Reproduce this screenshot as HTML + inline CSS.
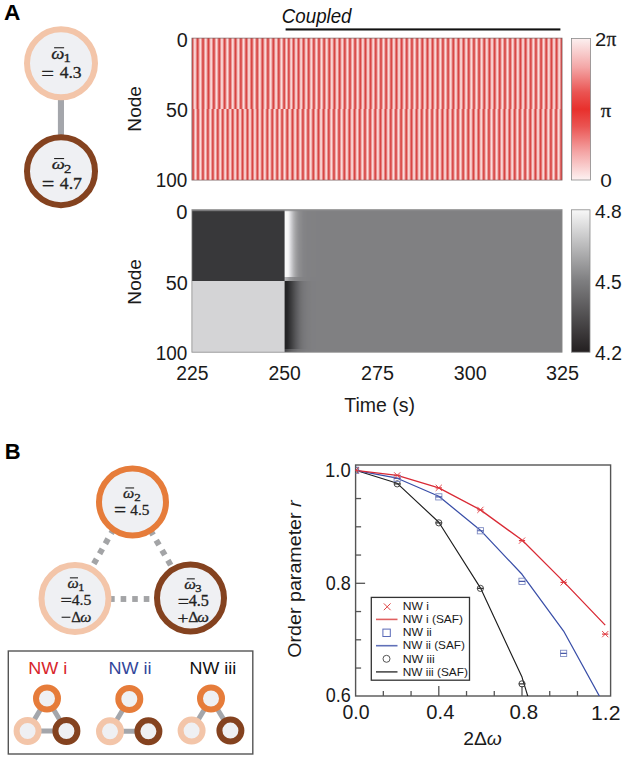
<!DOCTYPE html>
<html><head><meta charset="utf-8"><title>Figure</title>
<style>
html,body{margin:0;padding:0;background:#fff;}
body{width:626px;height:759px;overflow:hidden;font-family:"Liberation Sans", sans-serif;}
svg{display:block;}
</style></head><body>
<svg width="626" height="759" viewBox="0 0 626 759">
<rect width="626" height="759" fill="#fff"/>
<defs><linearGradient id="gTop" x1="0" x2="1" y1="0" y2="0"><stop offset="0.0014" stop-color="#d94b49"/><stop offset="0.0041" stop-color="#e98f8e"/><stop offset="0.0068" stop-color="#f9d3d3"/><stop offset="0.0095" stop-color="#f6c6c6"/><stop offset="0.0122" stop-color="#e68180"/><stop offset="0.0149" stop-color="#d74442"/><stop offset="0.0176" stop-color="#e27170"/><stop offset="0.0203" stop-color="#f2b8b8"/><stop offset="0.0230" stop-color="#fbdbdb"/><stop offset="0.0257" stop-color="#ec9e9d"/><stop offset="0.0284" stop-color="#dc5654"/><stop offset="0.0311" stop-color="#db5452"/><stop offset="0.0338" stop-color="#ec9c9b"/><stop offset="0.0365" stop-color="#fadada"/><stop offset="0.0392" stop-color="#f3baba"/><stop offset="0.0419" stop-color="#e27372"/><stop offset="0.0446" stop-color="#d74341"/><stop offset="0.0473" stop-color="#e57f7d"/><stop offset="0.0500" stop-color="#f5c4c4"/><stop offset="0.0527" stop-color="#f9d5d4"/><stop offset="0.0554" stop-color="#e99190"/><stop offset="0.0581" stop-color="#d94c4a"/><stop offset="0.0608" stop-color="#de605e"/><stop offset="0.0635" stop-color="#efa8a8"/><stop offset="0.0662" stop-color="#fbdedd"/><stop offset="0.0689" stop-color="#f0aead"/><stop offset="0.0716" stop-color="#df6664"/><stop offset="0.0743" stop-color="#d84947"/><stop offset="0.0770" stop-color="#e88c8a"/><stop offset="0.0797" stop-color="#f8d0d0"/><stop offset="0.0824" stop-color="#f7cac9"/><stop offset="0.0851" stop-color="#e68483"/><stop offset="0.0878" stop-color="#d84543"/><stop offset="0.0905" stop-color="#e16d6c"/><stop offset="0.0932" stop-color="#f2b5b4"/><stop offset="0.0959" stop-color="#fbdcdc"/><stop offset="0.0986" stop-color="#eda1a1"/><stop offset="0.1014" stop-color="#dc5957"/><stop offset="0.1041" stop-color="#da514f"/><stop offset="0.1068" stop-color="#eb9897"/><stop offset="0.1095" stop-color="#fad9d9"/><stop offset="0.1122" stop-color="#f4bebd"/><stop offset="0.1149" stop-color="#e37776"/><stop offset="0.1176" stop-color="#d74341"/><stop offset="0.1203" stop-color="#e47b7a"/><stop offset="0.1230" stop-color="#f4c1c0"/><stop offset="0.1257" stop-color="#fad7d7"/><stop offset="0.1284" stop-color="#ea9594"/><stop offset="0.1311" stop-color="#da4f4d"/><stop offset="0.1338" stop-color="#dd5c5a"/><stop offset="0.1365" stop-color="#eea5a4"/><stop offset="0.1392" stop-color="#fbdddd"/><stop offset="0.1419" stop-color="#f1b1b1"/><stop offset="0.1446" stop-color="#e06a68"/><stop offset="0.1473" stop-color="#d84644"/><stop offset="0.1500" stop-color="#e78887"/><stop offset="0.1527" stop-color="#f7cdcd"/><stop offset="0.1554" stop-color="#f7cdcd"/><stop offset="0.1581" stop-color="#e78887"/><stop offset="0.1608" stop-color="#d84644"/><stop offset="0.1635" stop-color="#e06a68"/><stop offset="0.1662" stop-color="#f1b1b1"/><stop offset="0.1689" stop-color="#fbdddd"/><stop offset="0.1716" stop-color="#eea5a4"/><stop offset="0.1743" stop-color="#dd5c5a"/><stop offset="0.1770" stop-color="#da4f4d"/><stop offset="0.1797" stop-color="#ea9594"/><stop offset="0.1824" stop-color="#fad7d7"/><stop offset="0.1851" stop-color="#f4c1c0"/><stop offset="0.1878" stop-color="#e47b7a"/><stop offset="0.1905" stop-color="#d74341"/><stop offset="0.1932" stop-color="#e37776"/><stop offset="0.1959" stop-color="#f4bebd"/><stop offset="0.1986" stop-color="#fad9d9"/><stop offset="0.2014" stop-color="#eb9897"/><stop offset="0.2041" stop-color="#da514f"/><stop offset="0.2068" stop-color="#dc5957"/><stop offset="0.2095" stop-color="#eda1a1"/><stop offset="0.2122" stop-color="#fbdcdc"/><stop offset="0.2149" stop-color="#f2b5b4"/><stop offset="0.2176" stop-color="#e16d6c"/><stop offset="0.2203" stop-color="#d84543"/><stop offset="0.2230" stop-color="#e68483"/><stop offset="0.2257" stop-color="#f7cac9"/><stop offset="0.2284" stop-color="#f8d0d0"/><stop offset="0.2311" stop-color="#e88c8a"/><stop offset="0.2338" stop-color="#d84947"/><stop offset="0.2365" stop-color="#df6664"/><stop offset="0.2392" stop-color="#f0aead"/><stop offset="0.2419" stop-color="#fbdedd"/><stop offset="0.2446" stop-color="#efa8a8"/><stop offset="0.2473" stop-color="#de605e"/><stop offset="0.2500" stop-color="#da4e4c"/><stop offset="0.2527" stop-color="#ed9f9e"/><stop offset="0.2554" stop-color="#fbdbda"/><stop offset="0.2581" stop-color="#ec9f9e"/><stop offset="0.2608" stop-color="#da4f4d"/><stop offset="0.2635" stop-color="#e06866"/><stop offset="0.2662" stop-color="#f3b9b9"/><stop offset="0.2689" stop-color="#f9d5d5"/><stop offset="0.2716" stop-color="#e88c8a"/><stop offset="0.2743" stop-color="#d84644"/><stop offset="0.2770" stop-color="#e37674"/><stop offset="0.2797" stop-color="#f5c3c2"/><stop offset="0.2824" stop-color="#f8d0d0"/><stop offset="0.2851" stop-color="#e78685"/><stop offset="0.2878" stop-color="#d84543"/><stop offset="0.2905" stop-color="#e47877"/><stop offset="0.2932" stop-color="#f5c3c3"/><stop offset="0.2959" stop-color="#f8d1d1"/><stop offset="0.2986" stop-color="#e78887"/><stop offset="0.3014" stop-color="#d84644"/><stop offset="0.3041" stop-color="#e37472"/><stop offset="0.3068" stop-color="#f4bfbe"/><stop offset="0.3095" stop-color="#f9d5d5"/><stop offset="0.3122" stop-color="#e98e8d"/><stop offset="0.3149" stop-color="#d84846"/><stop offset="0.3176" stop-color="#e16c6a"/><stop offset="0.3203" stop-color="#f2b7b6"/><stop offset="0.3230" stop-color="#fad9d9"/><stop offset="0.3257" stop-color="#eb9796"/><stop offset="0.3284" stop-color="#da4e4c"/><stop offset="0.3311" stop-color="#de6160"/><stop offset="0.3338" stop-color="#f0adad"/><stop offset="0.3365" stop-color="#fbdcdc"/><stop offset="0.3392" stop-color="#eda2a1"/><stop offset="0.3419" stop-color="#dc5654"/><stop offset="0.3446" stop-color="#dc5756"/><stop offset="0.3473" stop-color="#eda3a2"/><stop offset="0.3500" stop-color="#fbdddd"/><stop offset="0.3527" stop-color="#f0acac"/><stop offset="0.3554" stop-color="#de615f"/><stop offset="0.3581" stop-color="#da4e4d"/><stop offset="0.3608" stop-color="#eb9796"/><stop offset="0.3635" stop-color="#fad9d9"/><stop offset="0.3662" stop-color="#f2b8b7"/><stop offset="0.3689" stop-color="#e16d6c"/><stop offset="0.3716" stop-color="#d84745"/><stop offset="0.3743" stop-color="#e88c8a"/><stop offset="0.3770" stop-color="#f9d3d2"/><stop offset="0.3797" stop-color="#f5c3c3"/><stop offset="0.3824" stop-color="#e47a78"/><stop offset="0.3851" stop-color="#d74442"/><stop offset="0.3878" stop-color="#e57f7e"/><stop offset="0.3905" stop-color="#f6c8c8"/><stop offset="0.3932" stop-color="#f8cfce"/><stop offset="0.3959" stop-color="#e78685"/><stop offset="0.3986" stop-color="#d84543"/><stop offset="0.4014" stop-color="#e27371"/><stop offset="0.4041" stop-color="#f3bdbc"/><stop offset="0.4068" stop-color="#fad7d7"/><stop offset="0.4095" stop-color="#ea9392"/><stop offset="0.4122" stop-color="#d94b49"/><stop offset="0.4149" stop-color="#df6564"/><stop offset="0.4176" stop-color="#f1b1b0"/><stop offset="0.4203" stop-color="#fbdcdc"/><stop offset="0.4230" stop-color="#ed9f9e"/><stop offset="0.4257" stop-color="#db5452"/><stop offset="0.4284" stop-color="#dc5958"/><stop offset="0.4311" stop-color="#eea5a4"/><stop offset="0.4338" stop-color="#fbdddd"/><stop offset="0.4365" stop-color="#efabaa"/><stop offset="0.4392" stop-color="#de5f5d"/><stop offset="0.4419" stop-color="#da4f4e"/><stop offset="0.4446" stop-color="#eb9998"/><stop offset="0.4473" stop-color="#fadada"/><stop offset="0.4500" stop-color="#f2b7b6"/><stop offset="0.4527" stop-color="#e16c6a"/><stop offset="0.4554" stop-color="#d84846"/><stop offset="0.4581" stop-color="#e88d8b"/><stop offset="0.4608" stop-color="#f9d3d3"/><stop offset="0.4635" stop-color="#f5c2c2"/><stop offset="0.4662" stop-color="#e47978"/><stop offset="0.4689" stop-color="#d74442"/><stop offset="0.4716" stop-color="#e5807f"/><stop offset="0.4743" stop-color="#f6c9c8"/><stop offset="0.4770" stop-color="#f8cece"/><stop offset="0.4797" stop-color="#e78685"/><stop offset="0.4824" stop-color="#d84543"/><stop offset="0.4851" stop-color="#e27372"/><stop offset="0.4878" stop-color="#f4bdbc"/><stop offset="0.4905" stop-color="#fad7d7"/><stop offset="0.4932" stop-color="#ea9291"/><stop offset="0.4959" stop-color="#d94b49"/><stop offset="0.4986" stop-color="#df6664"/><stop offset="0.5014" stop-color="#f1b1b1"/><stop offset="0.5041" stop-color="#fbdcdb"/><stop offset="0.5068" stop-color="#ec9e9e"/><stop offset="0.5095" stop-color="#db5452"/><stop offset="0.5122" stop-color="#dc5a58"/><stop offset="0.5149" stop-color="#eea5a4"/><stop offset="0.5176" stop-color="#fbdddd"/><stop offset="0.5203" stop-color="#efaaaa"/><stop offset="0.5230" stop-color="#de5f5d"/><stop offset="0.5257" stop-color="#da504e"/><stop offset="0.5284" stop-color="#eb9998"/><stop offset="0.5311" stop-color="#fadada"/><stop offset="0.5338" stop-color="#f2b6b6"/><stop offset="0.5365" stop-color="#e16c6a"/><stop offset="0.5392" stop-color="#d84846"/><stop offset="0.5419" stop-color="#e88d8c"/><stop offset="0.5446" stop-color="#f9d3d3"/><stop offset="0.5473" stop-color="#f5c2c2"/><stop offset="0.5500" stop-color="#e47977"/><stop offset="0.5527" stop-color="#d74442"/><stop offset="0.5554" stop-color="#e5807f"/><stop offset="0.5581" stop-color="#f6c9c9"/><stop offset="0.5608" stop-color="#f7cecd"/><stop offset="0.5635" stop-color="#e78584"/><stop offset="0.5662" stop-color="#d84543"/><stop offset="0.5689" stop-color="#e27372"/><stop offset="0.5716" stop-color="#f4bdbd"/><stop offset="0.5743" stop-color="#fad7d6"/><stop offset="0.5770" stop-color="#ea9291"/><stop offset="0.5797" stop-color="#d94b49"/><stop offset="0.5824" stop-color="#df6664"/><stop offset="0.5851" stop-color="#f1b2b1"/><stop offset="0.5878" stop-color="#fbdcdb"/><stop offset="0.5905" stop-color="#ec9e9d"/><stop offset="0.5932" stop-color="#db5352"/><stop offset="0.5959" stop-color="#dc5a58"/><stop offset="0.5986" stop-color="#eea6a5"/><stop offset="0.6014" stop-color="#fbdddd"/><stop offset="0.6041" stop-color="#efaaa9"/><stop offset="0.6068" stop-color="#de5e5d"/><stop offset="0.6095" stop-color="#da504e"/><stop offset="0.6122" stop-color="#eb9998"/><stop offset="0.6149" stop-color="#fadada"/><stop offset="0.6176" stop-color="#f2b6b5"/><stop offset="0.6203" stop-color="#e16b6a"/><stop offset="0.6230" stop-color="#d84846"/><stop offset="0.6257" stop-color="#e88d8c"/><stop offset="0.6284" stop-color="#f9d4d3"/><stop offset="0.6311" stop-color="#f5c2c1"/><stop offset="0.6338" stop-color="#e47877"/><stop offset="0.6365" stop-color="#d74442"/><stop offset="0.6392" stop-color="#e6817f"/><stop offset="0.6419" stop-color="#f6c9c9"/><stop offset="0.6446" stop-color="#f7cdcd"/><stop offset="0.6473" stop-color="#e78584"/><stop offset="0.6500" stop-color="#d84543"/><stop offset="0.6527" stop-color="#e37472"/><stop offset="0.6554" stop-color="#f4bebd"/><stop offset="0.6581" stop-color="#fad7d6"/><stop offset="0.6608" stop-color="#e99291"/><stop offset="0.6635" stop-color="#d94b49"/><stop offset="0.6662" stop-color="#df6665"/><stop offset="0.6689" stop-color="#f1b2b1"/><stop offset="0.6716" stop-color="#fbdcdb"/><stop offset="0.6743" stop-color="#ec9e9d"/><stop offset="0.6770" stop-color="#db5351"/><stop offset="0.6797" stop-color="#dd5a58"/><stop offset="0.6824" stop-color="#eea6a5"/><stop offset="0.6851" stop-color="#fbdddd"/><stop offset="0.6878" stop-color="#efaaa9"/><stop offset="0.6905" stop-color="#dd5e5c"/><stop offset="0.6932" stop-color="#da504e"/><stop offset="0.6959" stop-color="#eb9a99"/><stop offset="0.6986" stop-color="#fadada"/><stop offset="0.7014" stop-color="#f2b6b5"/><stop offset="0.7041" stop-color="#e06b69"/><stop offset="0.7068" stop-color="#d84846"/><stop offset="0.7095" stop-color="#e98d8c"/><stop offset="0.7122" stop-color="#f9d4d4"/><stop offset="0.7149" stop-color="#f5c2c1"/><stop offset="0.7176" stop-color="#e47877"/><stop offset="0.7203" stop-color="#d74442"/><stop offset="0.7230" stop-color="#e68180"/><stop offset="0.7257" stop-color="#f7cac9"/><stop offset="0.7284" stop-color="#f7cdcd"/><stop offset="0.7311" stop-color="#e78584"/><stop offset="0.7338" stop-color="#d84543"/><stop offset="0.7365" stop-color="#e37473"/><stop offset="0.7392" stop-color="#f4bebd"/><stop offset="0.7419" stop-color="#fad6d6"/><stop offset="0.7446" stop-color="#e99190"/><stop offset="0.7473" stop-color="#d94a49"/><stop offset="0.7500" stop-color="#df6765"/><stop offset="0.7527" stop-color="#f1b2b1"/><stop offset="0.7554" stop-color="#fbdbdb"/><stop offset="0.7581" stop-color="#ec9e9d"/><stop offset="0.7608" stop-color="#db5351"/><stop offset="0.7635" stop-color="#dd5a59"/><stop offset="0.7662" stop-color="#eea6a5"/><stop offset="0.7689" stop-color="#fbdddd"/><stop offset="0.7716" stop-color="#efaaa9"/><stop offset="0.7743" stop-color="#dd5e5c"/><stop offset="0.7770" stop-color="#da504e"/><stop offset="0.7797" stop-color="#eb9a99"/><stop offset="0.7824" stop-color="#fadbda"/><stop offset="0.7851" stop-color="#f2b6b5"/><stop offset="0.7878" stop-color="#e06b69"/><stop offset="0.7905" stop-color="#d84846"/><stop offset="0.7932" stop-color="#e98e8d"/><stop offset="0.7959" stop-color="#f9d4d4"/><stop offset="0.7986" stop-color="#f5c1c1"/><stop offset="0.8014" stop-color="#e37876"/><stop offset="0.8041" stop-color="#d74442"/><stop offset="0.8068" stop-color="#e68180"/><stop offset="0.8095" stop-color="#f7cac9"/><stop offset="0.8122" stop-color="#f7cdcd"/><stop offset="0.8149" stop-color="#e68583"/><stop offset="0.8176" stop-color="#d84543"/><stop offset="0.8203" stop-color="#e37473"/><stop offset="0.8230" stop-color="#f4bebe"/><stop offset="0.8257" stop-color="#f9d6d6"/><stop offset="0.8284" stop-color="#e99190"/><stop offset="0.8311" stop-color="#d94a48"/><stop offset="0.8338" stop-color="#e06765"/><stop offset="0.8365" stop-color="#f1b2b2"/><stop offset="0.8392" stop-color="#fbdbdb"/><stop offset="0.8419" stop-color="#ec9d9c"/><stop offset="0.8446" stop-color="#db5351"/><stop offset="0.8473" stop-color="#dd5b59"/><stop offset="0.8500" stop-color="#eea6a6"/><stop offset="0.8527" stop-color="#fbdddd"/><stop offset="0.8554" stop-color="#efa9a9"/><stop offset="0.8581" stop-color="#dd5d5c"/><stop offset="0.8608" stop-color="#da514f"/><stop offset="0.8635" stop-color="#ec9a99"/><stop offset="0.8662" stop-color="#fadbda"/><stop offset="0.8689" stop-color="#f2b5b5"/><stop offset="0.8716" stop-color="#e06a69"/><stop offset="0.8743" stop-color="#d84847"/><stop offset="0.8770" stop-color="#e98e8d"/><stop offset="0.8797" stop-color="#f9d4d4"/><stop offset="0.8824" stop-color="#f5c1c0"/><stop offset="0.8851" stop-color="#e37776"/><stop offset="0.8878" stop-color="#d74442"/><stop offset="0.8905" stop-color="#e68180"/><stop offset="0.8932" stop-color="#f7caca"/><stop offset="0.8959" stop-color="#f7cdcc"/><stop offset="0.8986" stop-color="#e68483"/><stop offset="0.9014" stop-color="#d84543"/><stop offset="0.9041" stop-color="#e37573"/><stop offset="0.9068" stop-color="#f4bebe"/><stop offset="0.9095" stop-color="#f9d6d6"/><stop offset="0.9122" stop-color="#e99190"/><stop offset="0.9149" stop-color="#d94a48"/><stop offset="0.9176" stop-color="#e06766"/><stop offset="0.9203" stop-color="#f1b3b2"/><stop offset="0.9230" stop-color="#fbdbdb"/><stop offset="0.9257" stop-color="#ec9d9c"/><stop offset="0.9284" stop-color="#db5251"/><stop offset="0.9311" stop-color="#dd5b59"/><stop offset="0.9338" stop-color="#eea7a6"/><stop offset="0.9365" stop-color="#fbdddd"/><stop offset="0.9392" stop-color="#efa9a8"/><stop offset="0.9419" stop-color="#dd5d5c"/><stop offset="0.9446" stop-color="#da514f"/><stop offset="0.9473" stop-color="#ec9b9a"/><stop offset="0.9500" stop-color="#fbdbdb"/><stop offset="0.9527" stop-color="#f2b5b4"/><stop offset="0.9554" stop-color="#e06a68"/><stop offset="0.9581" stop-color="#d84947"/><stop offset="0.9608" stop-color="#e98e8d"/><stop offset="0.9635" stop-color="#f9d4d4"/><stop offset="0.9662" stop-color="#f4c1c0"/><stop offset="0.9689" stop-color="#e37776"/><stop offset="0.9716" stop-color="#d74442"/><stop offset="0.9743" stop-color="#e68281"/><stop offset="0.9770" stop-color="#f7caca"/><stop offset="0.9797" stop-color="#f7cccc"/><stop offset="0.9824" stop-color="#e68483"/><stop offset="0.9851" stop-color="#d84543"/><stop offset="0.9878" stop-color="#e37574"/><stop offset="0.9905" stop-color="#f4bfbe"/><stop offset="0.9932" stop-color="#f9d6d6"/><stop offset="0.9959" stop-color="#e9908f"/><stop offset="0.9986" stop-color="#d94a48"/></linearGradient><linearGradient id="gBot" x1="0" x2="1" y1="0" y2="0"><stop offset="0.0014" stop-color="#dc5a58"/><stop offset="0.0041" stop-color="#dc5755"/><stop offset="0.0068" stop-color="#eea5a4"/><stop offset="0.0095" stop-color="#fbdcdc"/><stop offset="0.0122" stop-color="#eea5a4"/><stop offset="0.0149" stop-color="#dc5755"/><stop offset="0.0176" stop-color="#dc5a58"/><stop offset="0.0203" stop-color="#efa8a8"/><stop offset="0.0230" stop-color="#fbdcdc"/><stop offset="0.0257" stop-color="#eda1a0"/><stop offset="0.0284" stop-color="#db5352"/><stop offset="0.0311" stop-color="#dd5d5c"/><stop offset="0.0338" stop-color="#f0acab"/><stop offset="0.0365" stop-color="#fbdbdb"/><stop offset="0.0392" stop-color="#ec9d9c"/><stop offset="0.0419" stop-color="#da514f"/><stop offset="0.0446" stop-color="#de6160"/><stop offset="0.0473" stop-color="#f1b0af"/><stop offset="0.0500" stop-color="#fadada"/><stop offset="0.0527" stop-color="#eb9998"/><stop offset="0.0554" stop-color="#da4e4c"/><stop offset="0.0581" stop-color="#df6563"/><stop offset="0.0608" stop-color="#f1b4b3"/><stop offset="0.0635" stop-color="#fad9d9"/><stop offset="0.0662" stop-color="#ea9594"/><stop offset="0.0689" stop-color="#d94b49"/><stop offset="0.0716" stop-color="#e06968"/><stop offset="0.0743" stop-color="#f2b7b7"/><stop offset="0.0770" stop-color="#fad8d7"/><stop offset="0.0797" stop-color="#e99290"/><stop offset="0.0824" stop-color="#d94947"/><stop offset="0.0851" stop-color="#e16d6c"/><stop offset="0.0878" stop-color="#f3bbbb"/><stop offset="0.0905" stop-color="#f9d6d5"/><stop offset="0.0932" stop-color="#e98e8d"/><stop offset="0.0959" stop-color="#d84745"/><stop offset="0.0986" stop-color="#e27270"/><stop offset="0.1014" stop-color="#f4bfbe"/><stop offset="0.1041" stop-color="#f9d3d3"/><stop offset="0.1068" stop-color="#e88a89"/><stop offset="0.1095" stop-color="#d84644"/><stop offset="0.1122" stop-color="#e37674"/><stop offset="0.1149" stop-color="#f5c3c2"/><stop offset="0.1176" stop-color="#f8d0d0"/><stop offset="0.1203" stop-color="#e78685"/><stop offset="0.1230" stop-color="#d84543"/><stop offset="0.1257" stop-color="#e47a78"/><stop offset="0.1284" stop-color="#f6c6c6"/><stop offset="0.1311" stop-color="#f7cdcd"/><stop offset="0.1338" stop-color="#e68281"/><stop offset="0.1365" stop-color="#d84543"/><stop offset="0.1392" stop-color="#e57e7d"/><stop offset="0.1419" stop-color="#f7cac9"/><stop offset="0.1446" stop-color="#f7cac9"/><stop offset="0.1473" stop-color="#e57e7d"/><stop offset="0.1500" stop-color="#d84543"/><stop offset="0.1527" stop-color="#e68281"/><stop offset="0.1554" stop-color="#f7cdcd"/><stop offset="0.1581" stop-color="#f6c6c6"/><stop offset="0.1608" stop-color="#e47a78"/><stop offset="0.1635" stop-color="#d84543"/><stop offset="0.1662" stop-color="#e78685"/><stop offset="0.1689" stop-color="#f8d0d0"/><stop offset="0.1716" stop-color="#f5c3c2"/><stop offset="0.1743" stop-color="#e37674"/><stop offset="0.1770" stop-color="#d84644"/><stop offset="0.1797" stop-color="#e88a89"/><stop offset="0.1824" stop-color="#f9d3d3"/><stop offset="0.1851" stop-color="#f4bfbe"/><stop offset="0.1878" stop-color="#e27270"/><stop offset="0.1905" stop-color="#d84745"/><stop offset="0.1932" stop-color="#e98e8d"/><stop offset="0.1959" stop-color="#f9d6d5"/><stop offset="0.1986" stop-color="#f3bbbb"/><stop offset="0.2014" stop-color="#e16d6c"/><stop offset="0.2041" stop-color="#d94947"/><stop offset="0.2068" stop-color="#e99290"/><stop offset="0.2095" stop-color="#fad8d7"/><stop offset="0.2122" stop-color="#f2b7b7"/><stop offset="0.2149" stop-color="#e06968"/><stop offset="0.2176" stop-color="#d94b49"/><stop offset="0.2203" stop-color="#ea9594"/><stop offset="0.2230" stop-color="#fad9d9"/><stop offset="0.2257" stop-color="#f1b4b3"/><stop offset="0.2284" stop-color="#df6563"/><stop offset="0.2311" stop-color="#da4e4c"/><stop offset="0.2338" stop-color="#eb9998"/><stop offset="0.2365" stop-color="#fadada"/><stop offset="0.2392" stop-color="#f1b0af"/><stop offset="0.2419" stop-color="#de6160"/><stop offset="0.2446" stop-color="#da514f"/><stop offset="0.2473" stop-color="#ec9d9c"/><stop offset="0.2500" stop-color="#fbdcdc"/><stop offset="0.2527" stop-color="#f1b1b1"/><stop offset="0.2554" stop-color="#e06867"/><stop offset="0.2581" stop-color="#d84846"/><stop offset="0.2608" stop-color="#e88d8c"/><stop offset="0.2635" stop-color="#f9d2d2"/><stop offset="0.2662" stop-color="#f5c5c4"/><stop offset="0.2689" stop-color="#e57d7b"/><stop offset="0.2716" stop-color="#d74442"/><stop offset="0.2743" stop-color="#e47a79"/><stop offset="0.2770" stop-color="#f5c3c2"/><stop offset="0.2797" stop-color="#f9d3d3"/><stop offset="0.2824" stop-color="#e98d8c"/><stop offset="0.2851" stop-color="#d84846"/><stop offset="0.2878" stop-color="#e06a68"/><stop offset="0.2905" stop-color="#f2b4b4"/><stop offset="0.2932" stop-color="#fbdbdb"/><stop offset="0.2959" stop-color="#ec9c9b"/><stop offset="0.2986" stop-color="#db5250"/><stop offset="0.3014" stop-color="#dd5b59"/><stop offset="0.3041" stop-color="#eea7a6"/><stop offset="0.3068" stop-color="#fbdddd"/><stop offset="0.3095" stop-color="#efa9a9"/><stop offset="0.3122" stop-color="#dd5e5c"/><stop offset="0.3149" stop-color="#da504e"/><stop offset="0.3176" stop-color="#eb9a99"/><stop offset="0.3203" stop-color="#fadada"/><stop offset="0.3230" stop-color="#f2b6b5"/><stop offset="0.3257" stop-color="#e16b6a"/><stop offset="0.3284" stop-color="#d84846"/><stop offset="0.3311" stop-color="#e88d8c"/><stop offset="0.3338" stop-color="#f9d3d3"/><stop offset="0.3365" stop-color="#f5c2c2"/><stop offset="0.3392" stop-color="#e47978"/><stop offset="0.3419" stop-color="#d74442"/><stop offset="0.3446" stop-color="#e5807f"/><stop offset="0.3473" stop-color="#f6c9c8"/><stop offset="0.3500" stop-color="#f8cece"/><stop offset="0.3527" stop-color="#e78685"/><stop offset="0.3554" stop-color="#d84543"/><stop offset="0.3581" stop-color="#e27371"/><stop offset="0.3608" stop-color="#f4bdbc"/><stop offset="0.3635" stop-color="#fad7d7"/><stop offset="0.3662" stop-color="#ea9291"/><stop offset="0.3689" stop-color="#d94b49"/><stop offset="0.3716" stop-color="#df6564"/><stop offset="0.3743" stop-color="#f1b1b0"/><stop offset="0.3770" stop-color="#fbdcdc"/><stop offset="0.3797" stop-color="#ed9f9e"/><stop offset="0.3824" stop-color="#db5452"/><stop offset="0.3851" stop-color="#dc5958"/><stop offset="0.3878" stop-color="#eea5a4"/><stop offset="0.3905" stop-color="#fbdddd"/><stop offset="0.3932" stop-color="#efabaa"/><stop offset="0.3959" stop-color="#de5f5d"/><stop offset="0.3986" stop-color="#da4f4e"/><stop offset="0.4014" stop-color="#eb9998"/><stop offset="0.4041" stop-color="#fadada"/><stop offset="0.4068" stop-color="#f2b7b6"/><stop offset="0.4095" stop-color="#e16c6b"/><stop offset="0.4122" stop-color="#d84746"/><stop offset="0.4149" stop-color="#e88c8b"/><stop offset="0.4176" stop-color="#f9d3d3"/><stop offset="0.4203" stop-color="#f5c3c2"/><stop offset="0.4230" stop-color="#e47978"/><stop offset="0.4257" stop-color="#d74442"/><stop offset="0.4284" stop-color="#e5807f"/><stop offset="0.4311" stop-color="#f6c9c8"/><stop offset="0.4338" stop-color="#f8cece"/><stop offset="0.4365" stop-color="#e78685"/><stop offset="0.4392" stop-color="#d84543"/><stop offset="0.4419" stop-color="#e27372"/><stop offset="0.4446" stop-color="#f4bdbc"/><stop offset="0.4473" stop-color="#fad7d7"/><stop offset="0.4500" stop-color="#ea9291"/><stop offset="0.4527" stop-color="#d94b49"/><stop offset="0.4554" stop-color="#df6564"/><stop offset="0.4581" stop-color="#f1b1b0"/><stop offset="0.4608" stop-color="#fbdcdb"/><stop offset="0.4635" stop-color="#ec9f9e"/><stop offset="0.4662" stop-color="#db5452"/><stop offset="0.4689" stop-color="#dc5958"/><stop offset="0.4716" stop-color="#eea5a4"/><stop offset="0.4743" stop-color="#fbdddd"/><stop offset="0.4770" stop-color="#efabaa"/><stop offset="0.4797" stop-color="#de5f5d"/><stop offset="0.4824" stop-color="#da504e"/><stop offset="0.4851" stop-color="#eb9998"/><stop offset="0.4878" stop-color="#fadada"/><stop offset="0.4905" stop-color="#f2b6b6"/><stop offset="0.4932" stop-color="#e16c6a"/><stop offset="0.4959" stop-color="#d84846"/><stop offset="0.4986" stop-color="#e88d8c"/><stop offset="0.5014" stop-color="#f9d3d3"/><stop offset="0.5041" stop-color="#f5c2c2"/><stop offset="0.5068" stop-color="#e47978"/><stop offset="0.5095" stop-color="#d74442"/><stop offset="0.5122" stop-color="#e5807f"/><stop offset="0.5149" stop-color="#f6c9c8"/><stop offset="0.5176" stop-color="#f8cece"/><stop offset="0.5203" stop-color="#e78684"/><stop offset="0.5230" stop-color="#d84543"/><stop offset="0.5257" stop-color="#e27372"/><stop offset="0.5284" stop-color="#f4bdbd"/><stop offset="0.5311" stop-color="#fad7d7"/><stop offset="0.5338" stop-color="#ea9291"/><stop offset="0.5365" stop-color="#d94b49"/><stop offset="0.5392" stop-color="#df6664"/><stop offset="0.5419" stop-color="#f1b1b1"/><stop offset="0.5446" stop-color="#fbdcdb"/><stop offset="0.5473" stop-color="#ec9e9d"/><stop offset="0.5500" stop-color="#db5352"/><stop offset="0.5527" stop-color="#dc5a58"/><stop offset="0.5554" stop-color="#eea5a5"/><stop offset="0.5581" stop-color="#fbdddd"/><stop offset="0.5608" stop-color="#efaaaa"/><stop offset="0.5635" stop-color="#de5e5d"/><stop offset="0.5662" stop-color="#da504e"/><stop offset="0.5689" stop-color="#eb9998"/><stop offset="0.5716" stop-color="#fadada"/><stop offset="0.5743" stop-color="#f2b6b6"/><stop offset="0.5770" stop-color="#e16b6a"/><stop offset="0.5797" stop-color="#d84846"/><stop offset="0.5824" stop-color="#e88d8c"/><stop offset="0.5851" stop-color="#f9d3d3"/><stop offset="0.5878" stop-color="#f5c2c1"/><stop offset="0.5905" stop-color="#e47977"/><stop offset="0.5932" stop-color="#d74442"/><stop offset="0.5959" stop-color="#e5807f"/><stop offset="0.5986" stop-color="#f6c9c9"/><stop offset="0.6014" stop-color="#f7cecd"/><stop offset="0.6041" stop-color="#e78584"/><stop offset="0.6068" stop-color="#d84543"/><stop offset="0.6095" stop-color="#e27472"/><stop offset="0.6122" stop-color="#f4bdbd"/><stop offset="0.6149" stop-color="#fad7d6"/><stop offset="0.6176" stop-color="#ea9291"/><stop offset="0.6203" stop-color="#d94b49"/><stop offset="0.6230" stop-color="#df6665"/><stop offset="0.6257" stop-color="#f1b2b1"/><stop offset="0.6284" stop-color="#fbdcdb"/><stop offset="0.6311" stop-color="#ec9e9d"/><stop offset="0.6338" stop-color="#db5351"/><stop offset="0.6365" stop-color="#dd5a58"/><stop offset="0.6392" stop-color="#eea6a5"/><stop offset="0.6419" stop-color="#fbdddd"/><stop offset="0.6446" stop-color="#efaaa9"/><stop offset="0.6473" stop-color="#dd5e5d"/><stop offset="0.6500" stop-color="#da504e"/><stop offset="0.6527" stop-color="#eb9a99"/><stop offset="0.6554" stop-color="#fadada"/><stop offset="0.6581" stop-color="#f2b6b5"/><stop offset="0.6608" stop-color="#e06b6a"/><stop offset="0.6635" stop-color="#d84846"/><stop offset="0.6662" stop-color="#e88d8c"/><stop offset="0.6689" stop-color="#f9d4d3"/><stop offset="0.6716" stop-color="#f5c2c1"/><stop offset="0.6743" stop-color="#e47877"/><stop offset="0.6770" stop-color="#d74442"/><stop offset="0.6797" stop-color="#e6817f"/><stop offset="0.6824" stop-color="#f6c9c9"/><stop offset="0.6851" stop-color="#f7cdcd"/><stop offset="0.6878" stop-color="#e78584"/><stop offset="0.6905" stop-color="#d84543"/><stop offset="0.6932" stop-color="#e37472"/><stop offset="0.6959" stop-color="#f4bebd"/><stop offset="0.6986" stop-color="#fad7d6"/><stop offset="0.7014" stop-color="#e99190"/><stop offset="0.7041" stop-color="#d94a49"/><stop offset="0.7068" stop-color="#df6665"/><stop offset="0.7095" stop-color="#f1b2b1"/><stop offset="0.7122" stop-color="#fbdbdb"/><stop offset="0.7149" stop-color="#ec9e9d"/><stop offset="0.7176" stop-color="#db5351"/><stop offset="0.7203" stop-color="#dd5a58"/><stop offset="0.7230" stop-color="#eea6a5"/><stop offset="0.7257" stop-color="#fbdddd"/><stop offset="0.7284" stop-color="#efaaa9"/><stop offset="0.7311" stop-color="#dd5e5c"/><stop offset="0.7338" stop-color="#da504e"/><stop offset="0.7365" stop-color="#eb9a99"/><stop offset="0.7392" stop-color="#fadada"/><stop offset="0.7419" stop-color="#f2b6b5"/><stop offset="0.7446" stop-color="#e06b69"/><stop offset="0.7473" stop-color="#d84846"/><stop offset="0.7500" stop-color="#e98e8c"/><stop offset="0.7527" stop-color="#f9d4d4"/><stop offset="0.7554" stop-color="#f5c1c1"/><stop offset="0.7581" stop-color="#e37877"/><stop offset="0.7608" stop-color="#d74442"/><stop offset="0.7635" stop-color="#e68180"/><stop offset="0.7662" stop-color="#f7cac9"/><stop offset="0.7689" stop-color="#f7cdcd"/><stop offset="0.7716" stop-color="#e68583"/><stop offset="0.7743" stop-color="#d84543"/><stop offset="0.7770" stop-color="#e37473"/><stop offset="0.7797" stop-color="#f4bebd"/><stop offset="0.7824" stop-color="#f9d6d6"/><stop offset="0.7851" stop-color="#e99190"/><stop offset="0.7878" stop-color="#d94a48"/><stop offset="0.7905" stop-color="#e06765"/><stop offset="0.7932" stop-color="#f1b2b2"/><stop offset="0.7959" stop-color="#fbdbdb"/><stop offset="0.7986" stop-color="#ec9d9c"/><stop offset="0.8014" stop-color="#db5351"/><stop offset="0.8041" stop-color="#dd5a59"/><stop offset="0.8068" stop-color="#eea6a5"/><stop offset="0.8095" stop-color="#fbdddd"/><stop offset="0.8122" stop-color="#efa9a9"/><stop offset="0.8149" stop-color="#dd5e5c"/><stop offset="0.8176" stop-color="#da504f"/><stop offset="0.8203" stop-color="#eb9a99"/><stop offset="0.8230" stop-color="#fadbda"/><stop offset="0.8257" stop-color="#f2b5b5"/><stop offset="0.8284" stop-color="#e06a69"/><stop offset="0.8311" stop-color="#d84846"/><stop offset="0.8338" stop-color="#e98e8d"/><stop offset="0.8365" stop-color="#f9d4d4"/><stop offset="0.8392" stop-color="#f5c1c1"/><stop offset="0.8419" stop-color="#e37876"/><stop offset="0.8446" stop-color="#d74442"/><stop offset="0.8473" stop-color="#e68180"/><stop offset="0.8500" stop-color="#f7caca"/><stop offset="0.8527" stop-color="#f7cdcc"/><stop offset="0.8554" stop-color="#e68483"/><stop offset="0.8581" stop-color="#d84543"/><stop offset="0.8608" stop-color="#e37473"/><stop offset="0.8635" stop-color="#f4bebe"/><stop offset="0.8662" stop-color="#f9d6d6"/><stop offset="0.8689" stop-color="#e99190"/><stop offset="0.8716" stop-color="#d94a48"/><stop offset="0.8743" stop-color="#e06766"/><stop offset="0.8770" stop-color="#f1b3b2"/><stop offset="0.8797" stop-color="#fbdbdb"/><stop offset="0.8824" stop-color="#ec9d9c"/><stop offset="0.8851" stop-color="#db5351"/><stop offset="0.8878" stop-color="#dd5b59"/><stop offset="0.8905" stop-color="#eea7a6"/><stop offset="0.8932" stop-color="#fbdddd"/><stop offset="0.8959" stop-color="#efa9a8"/><stop offset="0.8986" stop-color="#dd5d5c"/><stop offset="0.9014" stop-color="#da514f"/><stop offset="0.9041" stop-color="#ec9a9a"/><stop offset="0.9068" stop-color="#fbdbda"/><stop offset="0.9095" stop-color="#f2b5b4"/><stop offset="0.9122" stop-color="#e06a69"/><stop offset="0.9149" stop-color="#d84947"/><stop offset="0.9176" stop-color="#e98e8d"/><stop offset="0.9203" stop-color="#f9d4d4"/><stop offset="0.9230" stop-color="#f4c1c0"/><stop offset="0.9257" stop-color="#e37776"/><stop offset="0.9284" stop-color="#d74442"/><stop offset="0.9311" stop-color="#e68280"/><stop offset="0.9338" stop-color="#f7caca"/><stop offset="0.9365" stop-color="#f7cccc"/><stop offset="0.9392" stop-color="#e68483"/><stop offset="0.9419" stop-color="#d84543"/><stop offset="0.9446" stop-color="#e37573"/><stop offset="0.9473" stop-color="#f4bfbe"/><stop offset="0.9500" stop-color="#f9d6d6"/><stop offset="0.9527" stop-color="#e9918f"/><stop offset="0.9554" stop-color="#d94a48"/><stop offset="0.9581" stop-color="#e06766"/><stop offset="0.9608" stop-color="#f1b3b2"/><stop offset="0.9635" stop-color="#fbdbdb"/><stop offset="0.9662" stop-color="#ec9d9c"/><stop offset="0.9689" stop-color="#db5251"/><stop offset="0.9716" stop-color="#dd5b59"/><stop offset="0.9743" stop-color="#eea7a6"/><stop offset="0.9770" stop-color="#fbdddd"/><stop offset="0.9797" stop-color="#efa9a8"/><stop offset="0.9824" stop-color="#dd5d5b"/><stop offset="0.9851" stop-color="#da514f"/><stop offset="0.9878" stop-color="#ec9b9a"/><stop offset="0.9905" stop-color="#fbdbdb"/><stop offset="0.9932" stop-color="#f2b5b4"/><stop offset="0.9959" stop-color="#e06a68"/><stop offset="0.9986" stop-color="#d84947"/></linearGradient><linearGradient id="hTop" x1="0" x2="1" y1="0" y2="0"><stop offset="0.0014" stop-color="#38383a"/><stop offset="0.0041" stop-color="#38383a"/><stop offset="0.0068" stop-color="#38383a"/><stop offset="0.0095" stop-color="#38383a"/><stop offset="0.0122" stop-color="#38383a"/><stop offset="0.0149" stop-color="#38383a"/><stop offset="0.0176" stop-color="#38383a"/><stop offset="0.0203" stop-color="#38383a"/><stop offset="0.0230" stop-color="#38383a"/><stop offset="0.0257" stop-color="#38383a"/><stop offset="0.0284" stop-color="#38383a"/><stop offset="0.0311" stop-color="#38383a"/><stop offset="0.0338" stop-color="#38383a"/><stop offset="0.0365" stop-color="#38383a"/><stop offset="0.0392" stop-color="#38383a"/><stop offset="0.0419" stop-color="#38383a"/><stop offset="0.0446" stop-color="#38383a"/><stop offset="0.0473" stop-color="#38383a"/><stop offset="0.0500" stop-color="#38383a"/><stop offset="0.0527" stop-color="#38383a"/><stop offset="0.0554" stop-color="#38383a"/><stop offset="0.0581" stop-color="#38383a"/><stop offset="0.0608" stop-color="#38383a"/><stop offset="0.0635" stop-color="#38383a"/><stop offset="0.0662" stop-color="#38383a"/><stop offset="0.0689" stop-color="#38383a"/><stop offset="0.0716" stop-color="#38383a"/><stop offset="0.0743" stop-color="#38383a"/><stop offset="0.0770" stop-color="#38383a"/><stop offset="0.0797" stop-color="#38383a"/><stop offset="0.0824" stop-color="#38383a"/><stop offset="0.0851" stop-color="#38383a"/><stop offset="0.0878" stop-color="#38383a"/><stop offset="0.0905" stop-color="#38383a"/><stop offset="0.0932" stop-color="#38383a"/><stop offset="0.0959" stop-color="#38383a"/><stop offset="0.0986" stop-color="#38383a"/><stop offset="0.1014" stop-color="#38383a"/><stop offset="0.1041" stop-color="#38383a"/><stop offset="0.1068" stop-color="#38383a"/><stop offset="0.1095" stop-color="#38383a"/><stop offset="0.1122" stop-color="#38383a"/><stop offset="0.1149" stop-color="#38383a"/><stop offset="0.1176" stop-color="#38383a"/><stop offset="0.1203" stop-color="#38383a"/><stop offset="0.1230" stop-color="#38383a"/><stop offset="0.1257" stop-color="#38383a"/><stop offset="0.1284" stop-color="#38383a"/><stop offset="0.1311" stop-color="#38383a"/><stop offset="0.1338" stop-color="#38383a"/><stop offset="0.1365" stop-color="#38383a"/><stop offset="0.1392" stop-color="#38383a"/><stop offset="0.1419" stop-color="#38383a"/><stop offset="0.1446" stop-color="#38383a"/><stop offset="0.1473" stop-color="#38383a"/><stop offset="0.1500" stop-color="#38383a"/><stop offset="0.1527" stop-color="#38383a"/><stop offset="0.1554" stop-color="#38383a"/><stop offset="0.1581" stop-color="#38383a"/><stop offset="0.1608" stop-color="#38383a"/><stop offset="0.1635" stop-color="#38383a"/><stop offset="0.1662" stop-color="#38383a"/><stop offset="0.1689" stop-color="#38383a"/><stop offset="0.1716" stop-color="#38383a"/><stop offset="0.1743" stop-color="#38383a"/><stop offset="0.1770" stop-color="#38383a"/><stop offset="0.1797" stop-color="#38383a"/><stop offset="0.1824" stop-color="#38383a"/><stop offset="0.1851" stop-color="#38383a"/><stop offset="0.1878" stop-color="#38383a"/><stop offset="0.1905" stop-color="#38383a"/><stop offset="0.1932" stop-color="#38383a"/><stop offset="0.1959" stop-color="#38383a"/><stop offset="0.1986" stop-color="#38383a"/><stop offset="0.2014" stop-color="#38383a"/><stop offset="0.2041" stop-color="#38383a"/><stop offset="0.2068" stop-color="#38383a"/><stop offset="0.2095" stop-color="#38383a"/><stop offset="0.2122" stop-color="#38383a"/><stop offset="0.2149" stop-color="#38383a"/><stop offset="0.2176" stop-color="#38383a"/><stop offset="0.2203" stop-color="#38383a"/><stop offset="0.2230" stop-color="#38383a"/><stop offset="0.2257" stop-color="#38383a"/><stop offset="0.2284" stop-color="#38383a"/><stop offset="0.2311" stop-color="#38383a"/><stop offset="0.2338" stop-color="#38383a"/><stop offset="0.2365" stop-color="#38383a"/><stop offset="0.2392" stop-color="#38383a"/><stop offset="0.2419" stop-color="#38383a"/><stop offset="0.2446" stop-color="#38383a"/><stop offset="0.2473" stop-color="#38383a"/><stop offset="0.2500" stop-color="#868688"/><stop offset="0.2527" stop-color="#f9f9f9"/><stop offset="0.2554" stop-color="#f8f8f8"/><stop offset="0.2581" stop-color="#f7f7f7"/><stop offset="0.2608" stop-color="#f2f2f2"/><stop offset="0.2635" stop-color="#e6e6e9"/><stop offset="0.2662" stop-color="#dadadd"/><stop offset="0.2689" stop-color="#cdcdd0"/><stop offset="0.2716" stop-color="#c1c1c4"/><stop offset="0.2743" stop-color="#b5b5b8"/><stop offset="0.2770" stop-color="#acacae"/><stop offset="0.2797" stop-color="#a3a3a5"/><stop offset="0.2824" stop-color="#9c9c9e"/><stop offset="0.2851" stop-color="#969698"/><stop offset="0.2878" stop-color="#919194"/><stop offset="0.2905" stop-color="#8d8d90"/><stop offset="0.2932" stop-color="#8b8b8d"/><stop offset="0.2959" stop-color="#89898b"/><stop offset="0.2986" stop-color="#868689"/><stop offset="0.3014" stop-color="#848487"/><stop offset="0.3041" stop-color="#838386"/><stop offset="0.3068" stop-color="#838385"/><stop offset="0.3095" stop-color="#828284"/><stop offset="0.3122" stop-color="#818184"/><stop offset="0.3149" stop-color="#818184"/><stop offset="0.3176" stop-color="#818184"/><stop offset="0.3203" stop-color="#818184"/><stop offset="0.3230" stop-color="#818183"/><stop offset="0.3257" stop-color="#818183"/><stop offset="0.3284" stop-color="#818183"/><stop offset="0.3311" stop-color="#818183"/><stop offset="0.3338" stop-color="#818183"/><stop offset="0.3365" stop-color="#808083"/><stop offset="0.3392" stop-color="#808083"/><stop offset="0.3419" stop-color="#808083"/><stop offset="0.3446" stop-color="#808083"/><stop offset="0.3473" stop-color="#808082"/><stop offset="0.3500" stop-color="#808082"/><stop offset="0.3527" stop-color="#808082"/><stop offset="0.3554" stop-color="#808082"/><stop offset="0.3581" stop-color="#808082"/><stop offset="0.3608" stop-color="#808082"/><stop offset="0.3635" stop-color="#808082"/><stop offset="0.3662" stop-color="#808082"/><stop offset="0.3689" stop-color="#808082"/><stop offset="0.3716" stop-color="#808082"/><stop offset="0.3743" stop-color="#808082"/><stop offset="0.3770" stop-color="#808082"/><stop offset="0.3797" stop-color="#808082"/><stop offset="0.3824" stop-color="#808082"/><stop offset="0.3851" stop-color="#808082"/><stop offset="0.3878" stop-color="#808082"/><stop offset="0.3905" stop-color="#808082"/><stop offset="0.3932" stop-color="#808082"/><stop offset="0.3959" stop-color="#808082"/><stop offset="0.3986" stop-color="#808082"/><stop offset="0.4014" stop-color="#808082"/><stop offset="0.4041" stop-color="#808082"/><stop offset="0.4068" stop-color="#808082"/><stop offset="0.4095" stop-color="#808082"/><stop offset="0.4122" stop-color="#808082"/><stop offset="0.4149" stop-color="#808082"/><stop offset="0.4176" stop-color="#808082"/><stop offset="0.4203" stop-color="#808082"/><stop offset="0.4230" stop-color="#808082"/><stop offset="0.4257" stop-color="#808082"/><stop offset="0.4284" stop-color="#808082"/><stop offset="0.4311" stop-color="#808082"/><stop offset="0.4338" stop-color="#808082"/><stop offset="0.4365" stop-color="#808082"/><stop offset="0.4392" stop-color="#808082"/><stop offset="0.4419" stop-color="#808082"/><stop offset="0.4446" stop-color="#808082"/><stop offset="0.4473" stop-color="#808082"/><stop offset="0.4500" stop-color="#808082"/><stop offset="0.4527" stop-color="#808082"/><stop offset="0.4554" stop-color="#808082"/><stop offset="0.4581" stop-color="#808082"/><stop offset="0.4608" stop-color="#808082"/><stop offset="0.4635" stop-color="#808082"/><stop offset="0.4662" stop-color="#808082"/><stop offset="0.4689" stop-color="#808082"/><stop offset="0.4716" stop-color="#808082"/><stop offset="0.4743" stop-color="#808082"/><stop offset="0.4770" stop-color="#808082"/><stop offset="0.4797" stop-color="#808082"/><stop offset="0.4824" stop-color="#808082"/><stop offset="0.4851" stop-color="#808082"/><stop offset="0.4878" stop-color="#808082"/><stop offset="0.4905" stop-color="#808082"/><stop offset="0.4932" stop-color="#808082"/><stop offset="0.4959" stop-color="#808082"/><stop offset="0.4986" stop-color="#808082"/><stop offset="0.5014" stop-color="#808082"/><stop offset="0.5041" stop-color="#808082"/><stop offset="0.5068" stop-color="#808082"/><stop offset="0.5095" stop-color="#808082"/><stop offset="0.5122" stop-color="#808082"/><stop offset="0.5149" stop-color="#808082"/><stop offset="0.5176" stop-color="#808082"/><stop offset="0.5203" stop-color="#808082"/><stop offset="0.5230" stop-color="#808082"/><stop offset="0.5257" stop-color="#808082"/><stop offset="0.5284" stop-color="#808082"/><stop offset="0.5311" stop-color="#808082"/><stop offset="0.5338" stop-color="#808082"/><stop offset="0.5365" stop-color="#808082"/><stop offset="0.5392" stop-color="#808082"/><stop offset="0.5419" stop-color="#808082"/><stop offset="0.5446" stop-color="#808082"/><stop offset="0.5473" stop-color="#808082"/><stop offset="0.5500" stop-color="#808082"/><stop offset="0.5527" stop-color="#808082"/><stop offset="0.5554" stop-color="#808082"/><stop offset="0.5581" stop-color="#808082"/><stop offset="0.5608" stop-color="#808082"/><stop offset="0.5635" stop-color="#808082"/><stop offset="0.5662" stop-color="#808082"/><stop offset="0.5689" stop-color="#808082"/><stop offset="0.5716" stop-color="#808082"/><stop offset="0.5743" stop-color="#808082"/><stop offset="0.5770" stop-color="#808082"/><stop offset="0.5797" stop-color="#808082"/><stop offset="0.5824" stop-color="#808082"/><stop offset="0.5851" stop-color="#808082"/><stop offset="0.5878" stop-color="#808082"/><stop offset="0.5905" stop-color="#808082"/><stop offset="0.5932" stop-color="#808082"/><stop offset="0.5959" stop-color="#808082"/><stop offset="0.5986" stop-color="#808082"/><stop offset="0.6014" stop-color="#808082"/><stop offset="0.6041" stop-color="#808082"/><stop offset="0.6068" stop-color="#808082"/><stop offset="0.6095" stop-color="#808082"/><stop offset="0.6122" stop-color="#808082"/><stop offset="0.6149" stop-color="#808082"/><stop offset="0.6176" stop-color="#808082"/><stop offset="0.6203" stop-color="#808082"/><stop offset="0.6230" stop-color="#808082"/><stop offset="0.6257" stop-color="#808082"/><stop offset="0.6284" stop-color="#808082"/><stop offset="0.6311" stop-color="#808082"/><stop offset="0.6338" stop-color="#808082"/><stop offset="0.6365" stop-color="#808082"/><stop offset="0.6392" stop-color="#808082"/><stop offset="0.6419" stop-color="#808082"/><stop offset="0.6446" stop-color="#808082"/><stop offset="0.6473" stop-color="#808082"/><stop offset="0.6500" stop-color="#808082"/><stop offset="0.6527" stop-color="#808082"/><stop offset="0.6554" stop-color="#808082"/><stop offset="0.6581" stop-color="#808082"/><stop offset="0.6608" stop-color="#808082"/><stop offset="0.6635" stop-color="#808082"/><stop offset="0.6662" stop-color="#808082"/><stop offset="0.6689" stop-color="#808082"/><stop offset="0.6716" stop-color="#808082"/><stop offset="0.6743" stop-color="#808082"/><stop offset="0.6770" stop-color="#808082"/><stop offset="0.6797" stop-color="#808082"/><stop offset="0.6824" stop-color="#808082"/><stop offset="0.6851" stop-color="#808082"/><stop offset="0.6878" stop-color="#808082"/><stop offset="0.6905" stop-color="#808082"/><stop offset="0.6932" stop-color="#808082"/><stop offset="0.6959" stop-color="#808082"/><stop offset="0.6986" stop-color="#808082"/><stop offset="0.7014" stop-color="#808082"/><stop offset="0.7041" stop-color="#808082"/><stop offset="0.7068" stop-color="#808082"/><stop offset="0.7095" stop-color="#808082"/><stop offset="0.7122" stop-color="#808082"/><stop offset="0.7149" stop-color="#808082"/><stop offset="0.7176" stop-color="#808082"/><stop offset="0.7203" stop-color="#808082"/><stop offset="0.7230" stop-color="#808082"/><stop offset="0.7257" stop-color="#808082"/><stop offset="0.7284" stop-color="#808082"/><stop offset="0.7311" stop-color="#808082"/><stop offset="0.7338" stop-color="#808082"/><stop offset="0.7365" stop-color="#808082"/><stop offset="0.7392" stop-color="#808082"/><stop offset="0.7419" stop-color="#808082"/><stop offset="0.7446" stop-color="#808082"/><stop offset="0.7473" stop-color="#808082"/><stop offset="0.7500" stop-color="#808082"/><stop offset="0.7527" stop-color="#808082"/><stop offset="0.7554" stop-color="#808082"/><stop offset="0.7581" stop-color="#808082"/><stop offset="0.7608" stop-color="#808082"/><stop offset="0.7635" stop-color="#808082"/><stop offset="0.7662" stop-color="#808082"/><stop offset="0.7689" stop-color="#808082"/><stop offset="0.7716" stop-color="#808082"/><stop offset="0.7743" stop-color="#808082"/><stop offset="0.7770" stop-color="#808082"/><stop offset="0.7797" stop-color="#808082"/><stop offset="0.7824" stop-color="#808082"/><stop offset="0.7851" stop-color="#808082"/><stop offset="0.7878" stop-color="#808082"/><stop offset="0.7905" stop-color="#808082"/><stop offset="0.7932" stop-color="#808082"/><stop offset="0.7959" stop-color="#808082"/><stop offset="0.7986" stop-color="#808082"/><stop offset="0.8014" stop-color="#808082"/><stop offset="0.8041" stop-color="#808082"/><stop offset="0.8068" stop-color="#808082"/><stop offset="0.8095" stop-color="#808082"/><stop offset="0.8122" stop-color="#808082"/><stop offset="0.8149" stop-color="#808082"/><stop offset="0.8176" stop-color="#808082"/><stop offset="0.8203" stop-color="#808082"/><stop offset="0.8230" stop-color="#808082"/><stop offset="0.8257" stop-color="#808082"/><stop offset="0.8284" stop-color="#808082"/><stop offset="0.8311" stop-color="#808082"/><stop offset="0.8338" stop-color="#808082"/><stop offset="0.8365" stop-color="#808082"/><stop offset="0.8392" stop-color="#808082"/><stop offset="0.8419" stop-color="#808082"/><stop offset="0.8446" stop-color="#808082"/><stop offset="0.8473" stop-color="#808082"/><stop offset="0.8500" stop-color="#808082"/><stop offset="0.8527" stop-color="#808082"/><stop offset="0.8554" stop-color="#808082"/><stop offset="0.8581" stop-color="#808082"/><stop offset="0.8608" stop-color="#808082"/><stop offset="0.8635" stop-color="#808082"/><stop offset="0.8662" stop-color="#808082"/><stop offset="0.8689" stop-color="#808082"/><stop offset="0.8716" stop-color="#808082"/><stop offset="0.8743" stop-color="#808082"/><stop offset="0.8770" stop-color="#808082"/><stop offset="0.8797" stop-color="#808082"/><stop offset="0.8824" stop-color="#808082"/><stop offset="0.8851" stop-color="#808082"/><stop offset="0.8878" stop-color="#808082"/><stop offset="0.8905" stop-color="#808082"/><stop offset="0.8932" stop-color="#808082"/><stop offset="0.8959" stop-color="#808082"/><stop offset="0.8986" stop-color="#808082"/><stop offset="0.9014" stop-color="#808082"/><stop offset="0.9041" stop-color="#808082"/><stop offset="0.9068" stop-color="#808082"/><stop offset="0.9095" stop-color="#808082"/><stop offset="0.9122" stop-color="#808082"/><stop offset="0.9149" stop-color="#808082"/><stop offset="0.9176" stop-color="#808082"/><stop offset="0.9203" stop-color="#808082"/><stop offset="0.9230" stop-color="#808082"/><stop offset="0.9257" stop-color="#808082"/><stop offset="0.9284" stop-color="#808082"/><stop offset="0.9311" stop-color="#808082"/><stop offset="0.9338" stop-color="#808082"/><stop offset="0.9365" stop-color="#808082"/><stop offset="0.9392" stop-color="#808082"/><stop offset="0.9419" stop-color="#808082"/><stop offset="0.9446" stop-color="#808082"/><stop offset="0.9473" stop-color="#808082"/><stop offset="0.9500" stop-color="#808082"/><stop offset="0.9527" stop-color="#808082"/><stop offset="0.9554" stop-color="#808082"/><stop offset="0.9581" stop-color="#808082"/><stop offset="0.9608" stop-color="#808082"/><stop offset="0.9635" stop-color="#808082"/><stop offset="0.9662" stop-color="#808082"/><stop offset="0.9689" stop-color="#808082"/><stop offset="0.9716" stop-color="#808082"/><stop offset="0.9743" stop-color="#808082"/><stop offset="0.9770" stop-color="#808082"/><stop offset="0.9797" stop-color="#808082"/><stop offset="0.9824" stop-color="#808082"/><stop offset="0.9851" stop-color="#808082"/><stop offset="0.9878" stop-color="#808082"/><stop offset="0.9905" stop-color="#808082"/><stop offset="0.9932" stop-color="#808082"/><stop offset="0.9959" stop-color="#808082"/><stop offset="0.9986" stop-color="#808082"/></linearGradient><linearGradient id="hBot" x1="0" x2="1" y1="0" y2="0"><stop offset="0.0014" stop-color="#d4d4d6"/><stop offset="0.0041" stop-color="#d4d4d6"/><stop offset="0.0068" stop-color="#d4d4d6"/><stop offset="0.0095" stop-color="#d4d4d6"/><stop offset="0.0122" stop-color="#d4d4d6"/><stop offset="0.0149" stop-color="#d4d4d6"/><stop offset="0.0176" stop-color="#d4d4d6"/><stop offset="0.0203" stop-color="#d4d4d6"/><stop offset="0.0230" stop-color="#d4d4d6"/><stop offset="0.0257" stop-color="#d4d4d6"/><stop offset="0.0284" stop-color="#d4d4d6"/><stop offset="0.0311" stop-color="#d4d4d6"/><stop offset="0.0338" stop-color="#d4d4d6"/><stop offset="0.0365" stop-color="#d4d4d6"/><stop offset="0.0392" stop-color="#d4d4d6"/><stop offset="0.0419" stop-color="#d4d4d6"/><stop offset="0.0446" stop-color="#d4d4d6"/><stop offset="0.0473" stop-color="#d4d4d6"/><stop offset="0.0500" stop-color="#d4d4d6"/><stop offset="0.0527" stop-color="#d4d4d6"/><stop offset="0.0554" stop-color="#d4d4d6"/><stop offset="0.0581" stop-color="#d4d4d6"/><stop offset="0.0608" stop-color="#d4d4d6"/><stop offset="0.0635" stop-color="#d4d4d6"/><stop offset="0.0662" stop-color="#d4d4d6"/><stop offset="0.0689" stop-color="#d4d4d6"/><stop offset="0.0716" stop-color="#d4d4d6"/><stop offset="0.0743" stop-color="#d4d4d6"/><stop offset="0.0770" stop-color="#d4d4d6"/><stop offset="0.0797" stop-color="#d4d4d6"/><stop offset="0.0824" stop-color="#d4d4d6"/><stop offset="0.0851" stop-color="#d4d4d6"/><stop offset="0.0878" stop-color="#d4d4d6"/><stop offset="0.0905" stop-color="#d4d4d6"/><stop offset="0.0932" stop-color="#d4d4d6"/><stop offset="0.0959" stop-color="#d4d4d6"/><stop offset="0.0986" stop-color="#d4d4d6"/><stop offset="0.1014" stop-color="#d4d4d6"/><stop offset="0.1041" stop-color="#d4d4d6"/><stop offset="0.1068" stop-color="#d4d4d6"/><stop offset="0.1095" stop-color="#d4d4d6"/><stop offset="0.1122" stop-color="#d4d4d6"/><stop offset="0.1149" stop-color="#d4d4d6"/><stop offset="0.1176" stop-color="#d4d4d6"/><stop offset="0.1203" stop-color="#d4d4d6"/><stop offset="0.1230" stop-color="#d4d4d6"/><stop offset="0.1257" stop-color="#d4d4d6"/><stop offset="0.1284" stop-color="#d4d4d6"/><stop offset="0.1311" stop-color="#d4d4d6"/><stop offset="0.1338" stop-color="#d4d4d6"/><stop offset="0.1365" stop-color="#d4d4d6"/><stop offset="0.1392" stop-color="#d4d4d6"/><stop offset="0.1419" stop-color="#d4d4d6"/><stop offset="0.1446" stop-color="#d4d4d6"/><stop offset="0.1473" stop-color="#d4d4d6"/><stop offset="0.1500" stop-color="#d4d4d6"/><stop offset="0.1527" stop-color="#d4d4d6"/><stop offset="0.1554" stop-color="#d4d4d6"/><stop offset="0.1581" stop-color="#d4d4d6"/><stop offset="0.1608" stop-color="#d4d4d6"/><stop offset="0.1635" stop-color="#d4d4d6"/><stop offset="0.1662" stop-color="#d4d4d6"/><stop offset="0.1689" stop-color="#d4d4d6"/><stop offset="0.1716" stop-color="#d4d4d6"/><stop offset="0.1743" stop-color="#d4d4d6"/><stop offset="0.1770" stop-color="#d4d4d6"/><stop offset="0.1797" stop-color="#d4d4d6"/><stop offset="0.1824" stop-color="#d4d4d6"/><stop offset="0.1851" stop-color="#d4d4d6"/><stop offset="0.1878" stop-color="#d4d4d6"/><stop offset="0.1905" stop-color="#d4d4d6"/><stop offset="0.1932" stop-color="#d4d4d6"/><stop offset="0.1959" stop-color="#d4d4d6"/><stop offset="0.1986" stop-color="#d4d4d6"/><stop offset="0.2014" stop-color="#d4d4d6"/><stop offset="0.2041" stop-color="#d4d4d6"/><stop offset="0.2068" stop-color="#d4d4d6"/><stop offset="0.2095" stop-color="#d4d4d6"/><stop offset="0.2122" stop-color="#d4d4d6"/><stop offset="0.2149" stop-color="#d4d4d6"/><stop offset="0.2176" stop-color="#d4d4d6"/><stop offset="0.2203" stop-color="#d4d4d6"/><stop offset="0.2230" stop-color="#d4d4d6"/><stop offset="0.2257" stop-color="#d4d4d6"/><stop offset="0.2284" stop-color="#d4d4d6"/><stop offset="0.2311" stop-color="#d4d4d6"/><stop offset="0.2338" stop-color="#d4d4d6"/><stop offset="0.2365" stop-color="#d4d4d6"/><stop offset="0.2392" stop-color="#d4d4d6"/><stop offset="0.2419" stop-color="#d4d4d6"/><stop offset="0.2446" stop-color="#d4d4d6"/><stop offset="0.2473" stop-color="#d4d4d6"/><stop offset="0.2500" stop-color="#8d8d8f"/><stop offset="0.2527" stop-color="#232325"/><stop offset="0.2554" stop-color="#242426"/><stop offset="0.2581" stop-color="#272729"/><stop offset="0.2608" stop-color="#2c2c2f"/><stop offset="0.2635" stop-color="#323234"/><stop offset="0.2662" stop-color="#38383a"/><stop offset="0.2689" stop-color="#3e3e40"/><stop offset="0.2716" stop-color="#444446"/><stop offset="0.2743" stop-color="#4a4a4c"/><stop offset="0.2770" stop-color="#505052"/><stop offset="0.2797" stop-color="#565659"/><stop offset="0.2824" stop-color="#5b5b5e"/><stop offset="0.2851" stop-color="#606063"/><stop offset="0.2878" stop-color="#656568"/><stop offset="0.2905" stop-color="#6a6a6d"/><stop offset="0.2932" stop-color="#6e6e70"/><stop offset="0.2959" stop-color="#717173"/><stop offset="0.2986" stop-color="#747476"/><stop offset="0.3014" stop-color="#767679"/><stop offset="0.3041" stop-color="#78787b"/><stop offset="0.3068" stop-color="#79797c"/><stop offset="0.3095" stop-color="#7b7b7d"/><stop offset="0.3122" stop-color="#7c7c7e"/><stop offset="0.3149" stop-color="#7d7d7f"/><stop offset="0.3176" stop-color="#7d7d80"/><stop offset="0.3203" stop-color="#7e7e80"/><stop offset="0.3230" stop-color="#7f7f81"/><stop offset="0.3257" stop-color="#7f7f82"/><stop offset="0.3284" stop-color="#7f7f82"/><stop offset="0.3311" stop-color="#7f7f82"/><stop offset="0.3338" stop-color="#7f7f82"/><stop offset="0.3365" stop-color="#808082"/><stop offset="0.3392" stop-color="#808082"/><stop offset="0.3419" stop-color="#808082"/><stop offset="0.3446" stop-color="#808082"/><stop offset="0.3473" stop-color="#808082"/><stop offset="0.3500" stop-color="#808082"/><stop offset="0.3527" stop-color="#808082"/><stop offset="0.3554" stop-color="#808082"/><stop offset="0.3581" stop-color="#808082"/><stop offset="0.3608" stop-color="#808082"/><stop offset="0.3635" stop-color="#808082"/><stop offset="0.3662" stop-color="#808082"/><stop offset="0.3689" stop-color="#808082"/><stop offset="0.3716" stop-color="#808082"/><stop offset="0.3743" stop-color="#808082"/><stop offset="0.3770" stop-color="#808082"/><stop offset="0.3797" stop-color="#808082"/><stop offset="0.3824" stop-color="#808082"/><stop offset="0.3851" stop-color="#808082"/><stop offset="0.3878" stop-color="#808082"/><stop offset="0.3905" stop-color="#808082"/><stop offset="0.3932" stop-color="#808082"/><stop offset="0.3959" stop-color="#808082"/><stop offset="0.3986" stop-color="#808082"/><stop offset="0.4014" stop-color="#808082"/><stop offset="0.4041" stop-color="#808082"/><stop offset="0.4068" stop-color="#808082"/><stop offset="0.4095" stop-color="#808082"/><stop offset="0.4122" stop-color="#808082"/><stop offset="0.4149" stop-color="#808082"/><stop offset="0.4176" stop-color="#808082"/><stop offset="0.4203" stop-color="#808082"/><stop offset="0.4230" stop-color="#808082"/><stop offset="0.4257" stop-color="#808082"/><stop offset="0.4284" stop-color="#808082"/><stop offset="0.4311" stop-color="#808082"/><stop offset="0.4338" stop-color="#808082"/><stop offset="0.4365" stop-color="#808082"/><stop offset="0.4392" stop-color="#808082"/><stop offset="0.4419" stop-color="#808082"/><stop offset="0.4446" stop-color="#808082"/><stop offset="0.4473" stop-color="#808082"/><stop offset="0.4500" stop-color="#808082"/><stop offset="0.4527" stop-color="#808082"/><stop offset="0.4554" stop-color="#808082"/><stop offset="0.4581" stop-color="#808082"/><stop offset="0.4608" stop-color="#808082"/><stop offset="0.4635" stop-color="#808082"/><stop offset="0.4662" stop-color="#808082"/><stop offset="0.4689" stop-color="#808082"/><stop offset="0.4716" stop-color="#808082"/><stop offset="0.4743" stop-color="#808082"/><stop offset="0.4770" stop-color="#808082"/><stop offset="0.4797" stop-color="#808082"/><stop offset="0.4824" stop-color="#808082"/><stop offset="0.4851" stop-color="#808082"/><stop offset="0.4878" stop-color="#808082"/><stop offset="0.4905" stop-color="#808082"/><stop offset="0.4932" stop-color="#808082"/><stop offset="0.4959" stop-color="#808082"/><stop offset="0.4986" stop-color="#808082"/><stop offset="0.5014" stop-color="#808082"/><stop offset="0.5041" stop-color="#808082"/><stop offset="0.5068" stop-color="#808082"/><stop offset="0.5095" stop-color="#808082"/><stop offset="0.5122" stop-color="#808082"/><stop offset="0.5149" stop-color="#808082"/><stop offset="0.5176" stop-color="#808082"/><stop offset="0.5203" stop-color="#808082"/><stop offset="0.5230" stop-color="#808082"/><stop offset="0.5257" stop-color="#808082"/><stop offset="0.5284" stop-color="#808082"/><stop offset="0.5311" stop-color="#808082"/><stop offset="0.5338" stop-color="#808082"/><stop offset="0.5365" stop-color="#808082"/><stop offset="0.5392" stop-color="#808082"/><stop offset="0.5419" stop-color="#808082"/><stop offset="0.5446" stop-color="#808082"/><stop offset="0.5473" stop-color="#808082"/><stop offset="0.5500" stop-color="#808082"/><stop offset="0.5527" stop-color="#808082"/><stop offset="0.5554" stop-color="#808082"/><stop offset="0.5581" stop-color="#808082"/><stop offset="0.5608" stop-color="#808082"/><stop offset="0.5635" stop-color="#808082"/><stop offset="0.5662" stop-color="#808082"/><stop offset="0.5689" stop-color="#808082"/><stop offset="0.5716" stop-color="#808082"/><stop offset="0.5743" stop-color="#808082"/><stop offset="0.5770" stop-color="#808082"/><stop offset="0.5797" stop-color="#808082"/><stop offset="0.5824" stop-color="#808082"/><stop offset="0.5851" stop-color="#808082"/><stop offset="0.5878" stop-color="#808082"/><stop offset="0.5905" stop-color="#808082"/><stop offset="0.5932" stop-color="#808082"/><stop offset="0.5959" stop-color="#808082"/><stop offset="0.5986" stop-color="#808082"/><stop offset="0.6014" stop-color="#808082"/><stop offset="0.6041" stop-color="#808082"/><stop offset="0.6068" stop-color="#808082"/><stop offset="0.6095" stop-color="#808082"/><stop offset="0.6122" stop-color="#808082"/><stop offset="0.6149" stop-color="#808082"/><stop offset="0.6176" stop-color="#808082"/><stop offset="0.6203" stop-color="#808082"/><stop offset="0.6230" stop-color="#808082"/><stop offset="0.6257" stop-color="#808082"/><stop offset="0.6284" stop-color="#808082"/><stop offset="0.6311" stop-color="#808082"/><stop offset="0.6338" stop-color="#808082"/><stop offset="0.6365" stop-color="#808082"/><stop offset="0.6392" stop-color="#808082"/><stop offset="0.6419" stop-color="#808082"/><stop offset="0.6446" stop-color="#808082"/><stop offset="0.6473" stop-color="#808082"/><stop offset="0.6500" stop-color="#808082"/><stop offset="0.6527" stop-color="#808082"/><stop offset="0.6554" stop-color="#808082"/><stop offset="0.6581" stop-color="#808082"/><stop offset="0.6608" stop-color="#808082"/><stop offset="0.6635" stop-color="#808082"/><stop offset="0.6662" stop-color="#808082"/><stop offset="0.6689" stop-color="#808082"/><stop offset="0.6716" stop-color="#808082"/><stop offset="0.6743" stop-color="#808082"/><stop offset="0.6770" stop-color="#808082"/><stop offset="0.6797" stop-color="#808082"/><stop offset="0.6824" stop-color="#808082"/><stop offset="0.6851" stop-color="#808082"/><stop offset="0.6878" stop-color="#808082"/><stop offset="0.6905" stop-color="#808082"/><stop offset="0.6932" stop-color="#808082"/><stop offset="0.6959" stop-color="#808082"/><stop offset="0.6986" stop-color="#808082"/><stop offset="0.7014" stop-color="#808082"/><stop offset="0.7041" stop-color="#808082"/><stop offset="0.7068" stop-color="#808082"/><stop offset="0.7095" stop-color="#808082"/><stop offset="0.7122" stop-color="#808082"/><stop offset="0.7149" stop-color="#808082"/><stop offset="0.7176" stop-color="#808082"/><stop offset="0.7203" stop-color="#808082"/><stop offset="0.7230" stop-color="#808082"/><stop offset="0.7257" stop-color="#808082"/><stop offset="0.7284" stop-color="#808082"/><stop offset="0.7311" stop-color="#808082"/><stop offset="0.7338" stop-color="#808082"/><stop offset="0.7365" stop-color="#808082"/><stop offset="0.7392" stop-color="#808082"/><stop offset="0.7419" stop-color="#808082"/><stop offset="0.7446" stop-color="#808082"/><stop offset="0.7473" stop-color="#808082"/><stop offset="0.7500" stop-color="#808082"/><stop offset="0.7527" stop-color="#808082"/><stop offset="0.7554" stop-color="#808082"/><stop offset="0.7581" stop-color="#808082"/><stop offset="0.7608" stop-color="#808082"/><stop offset="0.7635" stop-color="#808082"/><stop offset="0.7662" stop-color="#808082"/><stop offset="0.7689" stop-color="#808082"/><stop offset="0.7716" stop-color="#808082"/><stop offset="0.7743" stop-color="#808082"/><stop offset="0.7770" stop-color="#808082"/><stop offset="0.7797" stop-color="#808082"/><stop offset="0.7824" stop-color="#808082"/><stop offset="0.7851" stop-color="#808082"/><stop offset="0.7878" stop-color="#808082"/><stop offset="0.7905" stop-color="#808082"/><stop offset="0.7932" stop-color="#808082"/><stop offset="0.7959" stop-color="#808082"/><stop offset="0.7986" stop-color="#808082"/><stop offset="0.8014" stop-color="#808082"/><stop offset="0.8041" stop-color="#808082"/><stop offset="0.8068" stop-color="#808082"/><stop offset="0.8095" stop-color="#808082"/><stop offset="0.8122" stop-color="#808082"/><stop offset="0.8149" stop-color="#808082"/><stop offset="0.8176" stop-color="#808082"/><stop offset="0.8203" stop-color="#808082"/><stop offset="0.8230" stop-color="#808082"/><stop offset="0.8257" stop-color="#808082"/><stop offset="0.8284" stop-color="#808082"/><stop offset="0.8311" stop-color="#808082"/><stop offset="0.8338" stop-color="#808082"/><stop offset="0.8365" stop-color="#808082"/><stop offset="0.8392" stop-color="#808082"/><stop offset="0.8419" stop-color="#808082"/><stop offset="0.8446" stop-color="#808082"/><stop offset="0.8473" stop-color="#808082"/><stop offset="0.8500" stop-color="#808082"/><stop offset="0.8527" stop-color="#808082"/><stop offset="0.8554" stop-color="#808082"/><stop offset="0.8581" stop-color="#808082"/><stop offset="0.8608" stop-color="#808082"/><stop offset="0.8635" stop-color="#808082"/><stop offset="0.8662" stop-color="#808082"/><stop offset="0.8689" stop-color="#808082"/><stop offset="0.8716" stop-color="#808082"/><stop offset="0.8743" stop-color="#808082"/><stop offset="0.8770" stop-color="#808082"/><stop offset="0.8797" stop-color="#808082"/><stop offset="0.8824" stop-color="#808082"/><stop offset="0.8851" stop-color="#808082"/><stop offset="0.8878" stop-color="#808082"/><stop offset="0.8905" stop-color="#808082"/><stop offset="0.8932" stop-color="#808082"/><stop offset="0.8959" stop-color="#808082"/><stop offset="0.8986" stop-color="#808082"/><stop offset="0.9014" stop-color="#808082"/><stop offset="0.9041" stop-color="#808082"/><stop offset="0.9068" stop-color="#808082"/><stop offset="0.9095" stop-color="#808082"/><stop offset="0.9122" stop-color="#808082"/><stop offset="0.9149" stop-color="#808082"/><stop offset="0.9176" stop-color="#808082"/><stop offset="0.9203" stop-color="#808082"/><stop offset="0.9230" stop-color="#808082"/><stop offset="0.9257" stop-color="#808082"/><stop offset="0.9284" stop-color="#808082"/><stop offset="0.9311" stop-color="#808082"/><stop offset="0.9338" stop-color="#808082"/><stop offset="0.9365" stop-color="#808082"/><stop offset="0.9392" stop-color="#808082"/><stop offset="0.9419" stop-color="#808082"/><stop offset="0.9446" stop-color="#808082"/><stop offset="0.9473" stop-color="#808082"/><stop offset="0.9500" stop-color="#808082"/><stop offset="0.9527" stop-color="#808082"/><stop offset="0.9554" stop-color="#808082"/><stop offset="0.9581" stop-color="#808082"/><stop offset="0.9608" stop-color="#808082"/><stop offset="0.9635" stop-color="#808082"/><stop offset="0.9662" stop-color="#808082"/><stop offset="0.9689" stop-color="#808082"/><stop offset="0.9716" stop-color="#808082"/><stop offset="0.9743" stop-color="#808082"/><stop offset="0.9770" stop-color="#808082"/><stop offset="0.9797" stop-color="#808082"/><stop offset="0.9824" stop-color="#808082"/><stop offset="0.9851" stop-color="#808082"/><stop offset="0.9878" stop-color="#808082"/><stop offset="0.9905" stop-color="#808082"/><stop offset="0.9932" stop-color="#808082"/><stop offset="0.9959" stop-color="#808082"/><stop offset="0.9986" stop-color="#808082"/></linearGradient><linearGradient id="hStrip" x1="0" x2="1" y1="0" y2="0"><stop offset="0.0014" stop-color="#38383a"/><stop offset="0.0041" stop-color="#38383a"/><stop offset="0.0068" stop-color="#38383a"/><stop offset="0.0095" stop-color="#38383a"/><stop offset="0.0122" stop-color="#38383a"/><stop offset="0.0149" stop-color="#38383a"/><stop offset="0.0176" stop-color="#38383a"/><stop offset="0.0203" stop-color="#38383a"/><stop offset="0.0230" stop-color="#38383a"/><stop offset="0.0257" stop-color="#38383a"/><stop offset="0.0284" stop-color="#38383a"/><stop offset="0.0311" stop-color="#38383a"/><stop offset="0.0338" stop-color="#38383a"/><stop offset="0.0365" stop-color="#38383a"/><stop offset="0.0392" stop-color="#38383a"/><stop offset="0.0419" stop-color="#38383a"/><stop offset="0.0446" stop-color="#38383a"/><stop offset="0.0473" stop-color="#38383a"/><stop offset="0.0500" stop-color="#38383a"/><stop offset="0.0527" stop-color="#38383a"/><stop offset="0.0554" stop-color="#38383a"/><stop offset="0.0581" stop-color="#38383a"/><stop offset="0.0608" stop-color="#38383a"/><stop offset="0.0635" stop-color="#38383a"/><stop offset="0.0662" stop-color="#38383a"/><stop offset="0.0689" stop-color="#38383a"/><stop offset="0.0716" stop-color="#38383a"/><stop offset="0.0743" stop-color="#38383a"/><stop offset="0.0770" stop-color="#38383a"/><stop offset="0.0797" stop-color="#38383a"/><stop offset="0.0824" stop-color="#38383a"/><stop offset="0.0851" stop-color="#38383a"/><stop offset="0.0878" stop-color="#38383a"/><stop offset="0.0905" stop-color="#38383a"/><stop offset="0.0932" stop-color="#38383a"/><stop offset="0.0959" stop-color="#38383a"/><stop offset="0.0986" stop-color="#38383a"/><stop offset="0.1014" stop-color="#38383a"/><stop offset="0.1041" stop-color="#38383a"/><stop offset="0.1068" stop-color="#38383a"/><stop offset="0.1095" stop-color="#38383a"/><stop offset="0.1122" stop-color="#38383a"/><stop offset="0.1149" stop-color="#38383a"/><stop offset="0.1176" stop-color="#38383a"/><stop offset="0.1203" stop-color="#38383a"/><stop offset="0.1230" stop-color="#38383a"/><stop offset="0.1257" stop-color="#38383a"/><stop offset="0.1284" stop-color="#38383a"/><stop offset="0.1311" stop-color="#38383a"/><stop offset="0.1338" stop-color="#38383a"/><stop offset="0.1365" stop-color="#38383a"/><stop offset="0.1392" stop-color="#38383a"/><stop offset="0.1419" stop-color="#38383a"/><stop offset="0.1446" stop-color="#38383a"/><stop offset="0.1473" stop-color="#38383a"/><stop offset="0.1500" stop-color="#38383a"/><stop offset="0.1527" stop-color="#38383a"/><stop offset="0.1554" stop-color="#38383a"/><stop offset="0.1581" stop-color="#38383a"/><stop offset="0.1608" stop-color="#38383a"/><stop offset="0.1635" stop-color="#38383a"/><stop offset="0.1662" stop-color="#38383a"/><stop offset="0.1689" stop-color="#38383a"/><stop offset="0.1716" stop-color="#38383a"/><stop offset="0.1743" stop-color="#38383a"/><stop offset="0.1770" stop-color="#38383a"/><stop offset="0.1797" stop-color="#38383a"/><stop offset="0.1824" stop-color="#38383a"/><stop offset="0.1851" stop-color="#38383a"/><stop offset="0.1878" stop-color="#38383a"/><stop offset="0.1905" stop-color="#38383a"/><stop offset="0.1932" stop-color="#38383a"/><stop offset="0.1959" stop-color="#38383a"/><stop offset="0.1986" stop-color="#38383a"/><stop offset="0.2014" stop-color="#38383a"/><stop offset="0.2041" stop-color="#38383a"/><stop offset="0.2068" stop-color="#38383a"/><stop offset="0.2095" stop-color="#38383a"/><stop offset="0.2122" stop-color="#38383a"/><stop offset="0.2149" stop-color="#38383a"/><stop offset="0.2176" stop-color="#38383a"/><stop offset="0.2203" stop-color="#38383a"/><stop offset="0.2230" stop-color="#38383a"/><stop offset="0.2257" stop-color="#38383a"/><stop offset="0.2284" stop-color="#38383a"/><stop offset="0.2311" stop-color="#38383a"/><stop offset="0.2338" stop-color="#38383a"/><stop offset="0.2365" stop-color="#38383a"/><stop offset="0.2392" stop-color="#38383a"/><stop offset="0.2419" stop-color="#38383a"/><stop offset="0.2446" stop-color="#38383a"/><stop offset="0.2473" stop-color="#38383a"/><stop offset="0.2500" stop-color="#6c6c6e"/><stop offset="0.2527" stop-color="#b4b4b7"/><stop offset="0.2554" stop-color="#adadb0"/><stop offset="0.2581" stop-color="#a7a7a9"/><stop offset="0.2608" stop-color="#a0a0a2"/><stop offset="0.2635" stop-color="#99999c"/><stop offset="0.2662" stop-color="#949497"/><stop offset="0.2689" stop-color="#929294"/><stop offset="0.2716" stop-color="#8e8e91"/><stop offset="0.2743" stop-color="#8c8c8e"/><stop offset="0.2770" stop-color="#89898c"/><stop offset="0.2797" stop-color="#88888b"/><stop offset="0.2824" stop-color="#87878a"/><stop offset="0.2851" stop-color="#868688"/><stop offset="0.2878" stop-color="#858587"/><stop offset="0.2905" stop-color="#848486"/><stop offset="0.2932" stop-color="#838385"/><stop offset="0.2959" stop-color="#838385"/><stop offset="0.2986" stop-color="#828285"/><stop offset="0.3014" stop-color="#828285"/><stop offset="0.3041" stop-color="#828284"/><stop offset="0.3068" stop-color="#828284"/><stop offset="0.3095" stop-color="#818184"/><stop offset="0.3122" stop-color="#818184"/><stop offset="0.3149" stop-color="#818183"/><stop offset="0.3176" stop-color="#818183"/><stop offset="0.3203" stop-color="#808083"/><stop offset="0.3230" stop-color="#808083"/><stop offset="0.3257" stop-color="#808083"/><stop offset="0.3284" stop-color="#808083"/><stop offset="0.3311" stop-color="#808083"/><stop offset="0.3338" stop-color="#808083"/><stop offset="0.3365" stop-color="#808083"/><stop offset="0.3392" stop-color="#808083"/><stop offset="0.3419" stop-color="#808083"/><stop offset="0.3446" stop-color="#808083"/><stop offset="0.3473" stop-color="#808082"/><stop offset="0.3500" stop-color="#808082"/><stop offset="0.3527" stop-color="#808082"/><stop offset="0.3554" stop-color="#808082"/><stop offset="0.3581" stop-color="#808082"/><stop offset="0.3608" stop-color="#808082"/><stop offset="0.3635" stop-color="#808082"/><stop offset="0.3662" stop-color="#808082"/><stop offset="0.3689" stop-color="#808082"/><stop offset="0.3716" stop-color="#808082"/><stop offset="0.3743" stop-color="#808082"/><stop offset="0.3770" stop-color="#808082"/><stop offset="0.3797" stop-color="#808082"/><stop offset="0.3824" stop-color="#808082"/><stop offset="0.3851" stop-color="#808082"/><stop offset="0.3878" stop-color="#808082"/><stop offset="0.3905" stop-color="#808082"/><stop offset="0.3932" stop-color="#808082"/><stop offset="0.3959" stop-color="#808082"/><stop offset="0.3986" stop-color="#808082"/><stop offset="0.4014" stop-color="#808082"/><stop offset="0.4041" stop-color="#808082"/><stop offset="0.4068" stop-color="#808082"/><stop offset="0.4095" stop-color="#808082"/><stop offset="0.4122" stop-color="#808082"/><stop offset="0.4149" stop-color="#808082"/><stop offset="0.4176" stop-color="#808082"/><stop offset="0.4203" stop-color="#808082"/><stop offset="0.4230" stop-color="#808082"/><stop offset="0.4257" stop-color="#808082"/><stop offset="0.4284" stop-color="#808082"/><stop offset="0.4311" stop-color="#808082"/><stop offset="0.4338" stop-color="#808082"/><stop offset="0.4365" stop-color="#808082"/><stop offset="0.4392" stop-color="#808082"/><stop offset="0.4419" stop-color="#808082"/><stop offset="0.4446" stop-color="#808082"/><stop offset="0.4473" stop-color="#808082"/><stop offset="0.4500" stop-color="#808082"/><stop offset="0.4527" stop-color="#808082"/><stop offset="0.4554" stop-color="#808082"/><stop offset="0.4581" stop-color="#808082"/><stop offset="0.4608" stop-color="#808082"/><stop offset="0.4635" stop-color="#808082"/><stop offset="0.4662" stop-color="#808082"/><stop offset="0.4689" stop-color="#808082"/><stop offset="0.4716" stop-color="#808082"/><stop offset="0.4743" stop-color="#808082"/><stop offset="0.4770" stop-color="#808082"/><stop offset="0.4797" stop-color="#808082"/><stop offset="0.4824" stop-color="#808082"/><stop offset="0.4851" stop-color="#808082"/><stop offset="0.4878" stop-color="#808082"/><stop offset="0.4905" stop-color="#808082"/><stop offset="0.4932" stop-color="#808082"/><stop offset="0.4959" stop-color="#808082"/><stop offset="0.4986" stop-color="#808082"/><stop offset="0.5014" stop-color="#808082"/><stop offset="0.5041" stop-color="#808082"/><stop offset="0.5068" stop-color="#808082"/><stop offset="0.5095" stop-color="#808082"/><stop offset="0.5122" stop-color="#808082"/><stop offset="0.5149" stop-color="#808082"/><stop offset="0.5176" stop-color="#808082"/><stop offset="0.5203" stop-color="#808082"/><stop offset="0.5230" stop-color="#808082"/><stop offset="0.5257" stop-color="#808082"/><stop offset="0.5284" stop-color="#808082"/><stop offset="0.5311" stop-color="#808082"/><stop offset="0.5338" stop-color="#808082"/><stop offset="0.5365" stop-color="#808082"/><stop offset="0.5392" stop-color="#808082"/><stop offset="0.5419" stop-color="#808082"/><stop offset="0.5446" stop-color="#808082"/><stop offset="0.5473" stop-color="#808082"/><stop offset="0.5500" stop-color="#808082"/><stop offset="0.5527" stop-color="#808082"/><stop offset="0.5554" stop-color="#808082"/><stop offset="0.5581" stop-color="#808082"/><stop offset="0.5608" stop-color="#808082"/><stop offset="0.5635" stop-color="#808082"/><stop offset="0.5662" stop-color="#808082"/><stop offset="0.5689" stop-color="#808082"/><stop offset="0.5716" stop-color="#808082"/><stop offset="0.5743" stop-color="#808082"/><stop offset="0.5770" stop-color="#808082"/><stop offset="0.5797" stop-color="#808082"/><stop offset="0.5824" stop-color="#808082"/><stop offset="0.5851" stop-color="#808082"/><stop offset="0.5878" stop-color="#808082"/><stop offset="0.5905" stop-color="#808082"/><stop offset="0.5932" stop-color="#808082"/><stop offset="0.5959" stop-color="#808082"/><stop offset="0.5986" stop-color="#808082"/><stop offset="0.6014" stop-color="#808082"/><stop offset="0.6041" stop-color="#808082"/><stop offset="0.6068" stop-color="#808082"/><stop offset="0.6095" stop-color="#808082"/><stop offset="0.6122" stop-color="#808082"/><stop offset="0.6149" stop-color="#808082"/><stop offset="0.6176" stop-color="#808082"/><stop offset="0.6203" stop-color="#808082"/><stop offset="0.6230" stop-color="#808082"/><stop offset="0.6257" stop-color="#808082"/><stop offset="0.6284" stop-color="#808082"/><stop offset="0.6311" stop-color="#808082"/><stop offset="0.6338" stop-color="#808082"/><stop offset="0.6365" stop-color="#808082"/><stop offset="0.6392" stop-color="#808082"/><stop offset="0.6419" stop-color="#808082"/><stop offset="0.6446" stop-color="#808082"/><stop offset="0.6473" stop-color="#808082"/><stop offset="0.6500" stop-color="#808082"/><stop offset="0.6527" stop-color="#808082"/><stop offset="0.6554" stop-color="#808082"/><stop offset="0.6581" stop-color="#808082"/><stop offset="0.6608" stop-color="#808082"/><stop offset="0.6635" stop-color="#808082"/><stop offset="0.6662" stop-color="#808082"/><stop offset="0.6689" stop-color="#808082"/><stop offset="0.6716" stop-color="#808082"/><stop offset="0.6743" stop-color="#808082"/><stop offset="0.6770" stop-color="#808082"/><stop offset="0.6797" stop-color="#808082"/><stop offset="0.6824" stop-color="#808082"/><stop offset="0.6851" stop-color="#808082"/><stop offset="0.6878" stop-color="#808082"/><stop offset="0.6905" stop-color="#808082"/><stop offset="0.6932" stop-color="#808082"/><stop offset="0.6959" stop-color="#808082"/><stop offset="0.6986" stop-color="#808082"/><stop offset="0.7014" stop-color="#808082"/><stop offset="0.7041" stop-color="#808082"/><stop offset="0.7068" stop-color="#808082"/><stop offset="0.7095" stop-color="#808082"/><stop offset="0.7122" stop-color="#808082"/><stop offset="0.7149" stop-color="#808082"/><stop offset="0.7176" stop-color="#808082"/><stop offset="0.7203" stop-color="#808082"/><stop offset="0.7230" stop-color="#808082"/><stop offset="0.7257" stop-color="#808082"/><stop offset="0.7284" stop-color="#808082"/><stop offset="0.7311" stop-color="#808082"/><stop offset="0.7338" stop-color="#808082"/><stop offset="0.7365" stop-color="#808082"/><stop offset="0.7392" stop-color="#808082"/><stop offset="0.7419" stop-color="#808082"/><stop offset="0.7446" stop-color="#808082"/><stop offset="0.7473" stop-color="#808082"/><stop offset="0.7500" stop-color="#808082"/><stop offset="0.7527" stop-color="#808082"/><stop offset="0.7554" stop-color="#808082"/><stop offset="0.7581" stop-color="#808082"/><stop offset="0.7608" stop-color="#808082"/><stop offset="0.7635" stop-color="#808082"/><stop offset="0.7662" stop-color="#808082"/><stop offset="0.7689" stop-color="#808082"/><stop offset="0.7716" stop-color="#808082"/><stop offset="0.7743" stop-color="#808082"/><stop offset="0.7770" stop-color="#808082"/><stop offset="0.7797" stop-color="#808082"/><stop offset="0.7824" stop-color="#808082"/><stop offset="0.7851" stop-color="#808082"/><stop offset="0.7878" stop-color="#808082"/><stop offset="0.7905" stop-color="#808082"/><stop offset="0.7932" stop-color="#808082"/><stop offset="0.7959" stop-color="#808082"/><stop offset="0.7986" stop-color="#808082"/><stop offset="0.8014" stop-color="#808082"/><stop offset="0.8041" stop-color="#808082"/><stop offset="0.8068" stop-color="#808082"/><stop offset="0.8095" stop-color="#808082"/><stop offset="0.8122" stop-color="#808082"/><stop offset="0.8149" stop-color="#808082"/><stop offset="0.8176" stop-color="#808082"/><stop offset="0.8203" stop-color="#808082"/><stop offset="0.8230" stop-color="#808082"/><stop offset="0.8257" stop-color="#808082"/><stop offset="0.8284" stop-color="#808082"/><stop offset="0.8311" stop-color="#808082"/><stop offset="0.8338" stop-color="#808082"/><stop offset="0.8365" stop-color="#808082"/><stop offset="0.8392" stop-color="#808082"/><stop offset="0.8419" stop-color="#808082"/><stop offset="0.8446" stop-color="#808082"/><stop offset="0.8473" stop-color="#808082"/><stop offset="0.8500" stop-color="#808082"/><stop offset="0.8527" stop-color="#808082"/><stop offset="0.8554" stop-color="#808082"/><stop offset="0.8581" stop-color="#808082"/><stop offset="0.8608" stop-color="#808082"/><stop offset="0.8635" stop-color="#808082"/><stop offset="0.8662" stop-color="#808082"/><stop offset="0.8689" stop-color="#808082"/><stop offset="0.8716" stop-color="#808082"/><stop offset="0.8743" stop-color="#808082"/><stop offset="0.8770" stop-color="#808082"/><stop offset="0.8797" stop-color="#808082"/><stop offset="0.8824" stop-color="#808082"/><stop offset="0.8851" stop-color="#808082"/><stop offset="0.8878" stop-color="#808082"/><stop offset="0.8905" stop-color="#808082"/><stop offset="0.8932" stop-color="#808082"/><stop offset="0.8959" stop-color="#808082"/><stop offset="0.8986" stop-color="#808082"/><stop offset="0.9014" stop-color="#808082"/><stop offset="0.9041" stop-color="#808082"/><stop offset="0.9068" stop-color="#808082"/><stop offset="0.9095" stop-color="#808082"/><stop offset="0.9122" stop-color="#808082"/><stop offset="0.9149" stop-color="#808082"/><stop offset="0.9176" stop-color="#808082"/><stop offset="0.9203" stop-color="#808082"/><stop offset="0.9230" stop-color="#808082"/><stop offset="0.9257" stop-color="#808082"/><stop offset="0.9284" stop-color="#808082"/><stop offset="0.9311" stop-color="#808082"/><stop offset="0.9338" stop-color="#808082"/><stop offset="0.9365" stop-color="#808082"/><stop offset="0.9392" stop-color="#808082"/><stop offset="0.9419" stop-color="#808082"/><stop offset="0.9446" stop-color="#808082"/><stop offset="0.9473" stop-color="#808082"/><stop offset="0.9500" stop-color="#808082"/><stop offset="0.9527" stop-color="#808082"/><stop offset="0.9554" stop-color="#808082"/><stop offset="0.9581" stop-color="#808082"/><stop offset="0.9608" stop-color="#808082"/><stop offset="0.9635" stop-color="#808082"/><stop offset="0.9662" stop-color="#808082"/><stop offset="0.9689" stop-color="#808082"/><stop offset="0.9716" stop-color="#808082"/><stop offset="0.9743" stop-color="#808082"/><stop offset="0.9770" stop-color="#808082"/><stop offset="0.9797" stop-color="#808082"/><stop offset="0.9824" stop-color="#808082"/><stop offset="0.9851" stop-color="#808082"/><stop offset="0.9878" stop-color="#808082"/><stop offset="0.9905" stop-color="#808082"/><stop offset="0.9932" stop-color="#808082"/><stop offset="0.9959" stop-color="#808082"/><stop offset="0.9986" stop-color="#808082"/></linearGradient><linearGradient id="hStripB" x1="0" x2="1" y1="0" y2="0"><stop offset="0.0014" stop-color="#d4d4d6"/><stop offset="0.0041" stop-color="#d4d4d6"/><stop offset="0.0068" stop-color="#d4d4d6"/><stop offset="0.0095" stop-color="#d4d4d6"/><stop offset="0.0122" stop-color="#d4d4d6"/><stop offset="0.0149" stop-color="#d4d4d6"/><stop offset="0.0176" stop-color="#d4d4d6"/><stop offset="0.0203" stop-color="#d4d4d6"/><stop offset="0.0230" stop-color="#d4d4d6"/><stop offset="0.0257" stop-color="#d4d4d6"/><stop offset="0.0284" stop-color="#d4d4d6"/><stop offset="0.0311" stop-color="#d4d4d6"/><stop offset="0.0338" stop-color="#d4d4d6"/><stop offset="0.0365" stop-color="#d4d4d6"/><stop offset="0.0392" stop-color="#d4d4d6"/><stop offset="0.0419" stop-color="#d4d4d6"/><stop offset="0.0446" stop-color="#d4d4d6"/><stop offset="0.0473" stop-color="#d4d4d6"/><stop offset="0.0500" stop-color="#d4d4d6"/><stop offset="0.0527" stop-color="#d4d4d6"/><stop offset="0.0554" stop-color="#d4d4d6"/><stop offset="0.0581" stop-color="#d4d4d6"/><stop offset="0.0608" stop-color="#d4d4d6"/><stop offset="0.0635" stop-color="#d4d4d6"/><stop offset="0.0662" stop-color="#d4d4d6"/><stop offset="0.0689" stop-color="#d4d4d6"/><stop offset="0.0716" stop-color="#d4d4d6"/><stop offset="0.0743" stop-color="#d4d4d6"/><stop offset="0.0770" stop-color="#d4d4d6"/><stop offset="0.0797" stop-color="#d4d4d6"/><stop offset="0.0824" stop-color="#d4d4d6"/><stop offset="0.0851" stop-color="#d4d4d6"/><stop offset="0.0878" stop-color="#d4d4d6"/><stop offset="0.0905" stop-color="#d4d4d6"/><stop offset="0.0932" stop-color="#d4d4d6"/><stop offset="0.0959" stop-color="#d4d4d6"/><stop offset="0.0986" stop-color="#d4d4d6"/><stop offset="0.1014" stop-color="#d4d4d6"/><stop offset="0.1041" stop-color="#d4d4d6"/><stop offset="0.1068" stop-color="#d4d4d6"/><stop offset="0.1095" stop-color="#d4d4d6"/><stop offset="0.1122" stop-color="#d4d4d6"/><stop offset="0.1149" stop-color="#d4d4d6"/><stop offset="0.1176" stop-color="#d4d4d6"/><stop offset="0.1203" stop-color="#d4d4d6"/><stop offset="0.1230" stop-color="#d4d4d6"/><stop offset="0.1257" stop-color="#d4d4d6"/><stop offset="0.1284" stop-color="#d4d4d6"/><stop offset="0.1311" stop-color="#d4d4d6"/><stop offset="0.1338" stop-color="#d4d4d6"/><stop offset="0.1365" stop-color="#d4d4d6"/><stop offset="0.1392" stop-color="#d4d4d6"/><stop offset="0.1419" stop-color="#d4d4d6"/><stop offset="0.1446" stop-color="#d4d4d6"/><stop offset="0.1473" stop-color="#d4d4d6"/><stop offset="0.1500" stop-color="#d4d4d6"/><stop offset="0.1527" stop-color="#d4d4d6"/><stop offset="0.1554" stop-color="#d4d4d6"/><stop offset="0.1581" stop-color="#d4d4d6"/><stop offset="0.1608" stop-color="#d4d4d6"/><stop offset="0.1635" stop-color="#d4d4d6"/><stop offset="0.1662" stop-color="#d4d4d6"/><stop offset="0.1689" stop-color="#d4d4d6"/><stop offset="0.1716" stop-color="#d4d4d6"/><stop offset="0.1743" stop-color="#d4d4d6"/><stop offset="0.1770" stop-color="#d4d4d6"/><stop offset="0.1797" stop-color="#d4d4d6"/><stop offset="0.1824" stop-color="#d4d4d6"/><stop offset="0.1851" stop-color="#d4d4d6"/><stop offset="0.1878" stop-color="#d4d4d6"/><stop offset="0.1905" stop-color="#d4d4d6"/><stop offset="0.1932" stop-color="#d4d4d6"/><stop offset="0.1959" stop-color="#d4d4d6"/><stop offset="0.1986" stop-color="#d4d4d6"/><stop offset="0.2014" stop-color="#d4d4d6"/><stop offset="0.2041" stop-color="#d4d4d6"/><stop offset="0.2068" stop-color="#d4d4d6"/><stop offset="0.2095" stop-color="#d4d4d6"/><stop offset="0.2122" stop-color="#d4d4d6"/><stop offset="0.2149" stop-color="#d4d4d6"/><stop offset="0.2176" stop-color="#d4d4d6"/><stop offset="0.2203" stop-color="#d4d4d6"/><stop offset="0.2230" stop-color="#d4d4d6"/><stop offset="0.2257" stop-color="#d4d4d6"/><stop offset="0.2284" stop-color="#d4d4d6"/><stop offset="0.2311" stop-color="#d4d4d6"/><stop offset="0.2338" stop-color="#d4d4d6"/><stop offset="0.2365" stop-color="#d4d4d6"/><stop offset="0.2392" stop-color="#d4d4d6"/><stop offset="0.2419" stop-color="#d4d4d6"/><stop offset="0.2446" stop-color="#d4d4d6"/><stop offset="0.2473" stop-color="#d4d4d6"/><stop offset="0.2500" stop-color="#98989b"/><stop offset="0.2527" stop-color="#424245"/><stop offset="0.2554" stop-color="#49494b"/><stop offset="0.2581" stop-color="#4f4f51"/><stop offset="0.2608" stop-color="#545457"/><stop offset="0.2635" stop-color="#59595b"/><stop offset="0.2662" stop-color="#5d5d60"/><stop offset="0.2689" stop-color="#626264"/><stop offset="0.2716" stop-color="#656568"/><stop offset="0.2743" stop-color="#68686a"/><stop offset="0.2770" stop-color="#6b6b6d"/><stop offset="0.2797" stop-color="#6d6d70"/><stop offset="0.2824" stop-color="#707072"/><stop offset="0.2851" stop-color="#737375"/><stop offset="0.2878" stop-color="#757577"/><stop offset="0.2905" stop-color="#767678"/><stop offset="0.2932" stop-color="#777779"/><stop offset="0.2959" stop-color="#78787a"/><stop offset="0.2986" stop-color="#79797c"/><stop offset="0.3014" stop-color="#7a7a7d"/><stop offset="0.3041" stop-color="#7b7b7e"/><stop offset="0.3068" stop-color="#7c7c7f"/><stop offset="0.3095" stop-color="#7d7d7f"/><stop offset="0.3122" stop-color="#7d7d80"/><stop offset="0.3149" stop-color="#7d7d80"/><stop offset="0.3176" stop-color="#7e7e80"/><stop offset="0.3203" stop-color="#7e7e81"/><stop offset="0.3230" stop-color="#7f7f81"/><stop offset="0.3257" stop-color="#7f7f82"/><stop offset="0.3284" stop-color="#7f7f82"/><stop offset="0.3311" stop-color="#808082"/><stop offset="0.3338" stop-color="#808082"/><stop offset="0.3365" stop-color="#808082"/><stop offset="0.3392" stop-color="#808082"/><stop offset="0.3419" stop-color="#808082"/><stop offset="0.3446" stop-color="#808082"/><stop offset="0.3473" stop-color="#808082"/><stop offset="0.3500" stop-color="#808082"/><stop offset="0.3527" stop-color="#808082"/><stop offset="0.3554" stop-color="#808082"/><stop offset="0.3581" stop-color="#808082"/><stop offset="0.3608" stop-color="#808082"/><stop offset="0.3635" stop-color="#808082"/><stop offset="0.3662" stop-color="#808082"/><stop offset="0.3689" stop-color="#808082"/><stop offset="0.3716" stop-color="#808082"/><stop offset="0.3743" stop-color="#808082"/><stop offset="0.3770" stop-color="#808082"/><stop offset="0.3797" stop-color="#808082"/><stop offset="0.3824" stop-color="#808082"/><stop offset="0.3851" stop-color="#808082"/><stop offset="0.3878" stop-color="#808082"/><stop offset="0.3905" stop-color="#808082"/><stop offset="0.3932" stop-color="#808082"/><stop offset="0.3959" stop-color="#808082"/><stop offset="0.3986" stop-color="#808082"/><stop offset="0.4014" stop-color="#808082"/><stop offset="0.4041" stop-color="#808082"/><stop offset="0.4068" stop-color="#808082"/><stop offset="0.4095" stop-color="#808082"/><stop offset="0.4122" stop-color="#808082"/><stop offset="0.4149" stop-color="#808082"/><stop offset="0.4176" stop-color="#808082"/><stop offset="0.4203" stop-color="#808082"/><stop offset="0.4230" stop-color="#808082"/><stop offset="0.4257" stop-color="#808082"/><stop offset="0.4284" stop-color="#808082"/><stop offset="0.4311" stop-color="#808082"/><stop offset="0.4338" stop-color="#808082"/><stop offset="0.4365" stop-color="#808082"/><stop offset="0.4392" stop-color="#808082"/><stop offset="0.4419" stop-color="#808082"/><stop offset="0.4446" stop-color="#808082"/><stop offset="0.4473" stop-color="#808082"/><stop offset="0.4500" stop-color="#808082"/><stop offset="0.4527" stop-color="#808082"/><stop offset="0.4554" stop-color="#808082"/><stop offset="0.4581" stop-color="#808082"/><stop offset="0.4608" stop-color="#808082"/><stop offset="0.4635" stop-color="#808082"/><stop offset="0.4662" stop-color="#808082"/><stop offset="0.4689" stop-color="#808082"/><stop offset="0.4716" stop-color="#808082"/><stop offset="0.4743" stop-color="#808082"/><stop offset="0.4770" stop-color="#808082"/><stop offset="0.4797" stop-color="#808082"/><stop offset="0.4824" stop-color="#808082"/><stop offset="0.4851" stop-color="#808082"/><stop offset="0.4878" stop-color="#808082"/><stop offset="0.4905" stop-color="#808082"/><stop offset="0.4932" stop-color="#808082"/><stop offset="0.4959" stop-color="#808082"/><stop offset="0.4986" stop-color="#808082"/><stop offset="0.5014" stop-color="#808082"/><stop offset="0.5041" stop-color="#808082"/><stop offset="0.5068" stop-color="#808082"/><stop offset="0.5095" stop-color="#808082"/><stop offset="0.5122" stop-color="#808082"/><stop offset="0.5149" stop-color="#808082"/><stop offset="0.5176" stop-color="#808082"/><stop offset="0.5203" stop-color="#808082"/><stop offset="0.5230" stop-color="#808082"/><stop offset="0.5257" stop-color="#808082"/><stop offset="0.5284" stop-color="#808082"/><stop offset="0.5311" stop-color="#808082"/><stop offset="0.5338" stop-color="#808082"/><stop offset="0.5365" stop-color="#808082"/><stop offset="0.5392" stop-color="#808082"/><stop offset="0.5419" stop-color="#808082"/><stop offset="0.5446" stop-color="#808082"/><stop offset="0.5473" stop-color="#808082"/><stop offset="0.5500" stop-color="#808082"/><stop offset="0.5527" stop-color="#808082"/><stop offset="0.5554" stop-color="#808082"/><stop offset="0.5581" stop-color="#808082"/><stop offset="0.5608" stop-color="#808082"/><stop offset="0.5635" stop-color="#808082"/><stop offset="0.5662" stop-color="#808082"/><stop offset="0.5689" stop-color="#808082"/><stop offset="0.5716" stop-color="#808082"/><stop offset="0.5743" stop-color="#808082"/><stop offset="0.5770" stop-color="#808082"/><stop offset="0.5797" stop-color="#808082"/><stop offset="0.5824" stop-color="#808082"/><stop offset="0.5851" stop-color="#808082"/><stop offset="0.5878" stop-color="#808082"/><stop offset="0.5905" stop-color="#808082"/><stop offset="0.5932" stop-color="#808082"/><stop offset="0.5959" stop-color="#808082"/><stop offset="0.5986" stop-color="#808082"/><stop offset="0.6014" stop-color="#808082"/><stop offset="0.6041" stop-color="#808082"/><stop offset="0.6068" stop-color="#808082"/><stop offset="0.6095" stop-color="#808082"/><stop offset="0.6122" stop-color="#808082"/><stop offset="0.6149" stop-color="#808082"/><stop offset="0.6176" stop-color="#808082"/><stop offset="0.6203" stop-color="#808082"/><stop offset="0.6230" stop-color="#808082"/><stop offset="0.6257" stop-color="#808082"/><stop offset="0.6284" stop-color="#808082"/><stop offset="0.6311" stop-color="#808082"/><stop offset="0.6338" stop-color="#808082"/><stop offset="0.6365" stop-color="#808082"/><stop offset="0.6392" stop-color="#808082"/><stop offset="0.6419" stop-color="#808082"/><stop offset="0.6446" stop-color="#808082"/><stop offset="0.6473" stop-color="#808082"/><stop offset="0.6500" stop-color="#808082"/><stop offset="0.6527" stop-color="#808082"/><stop offset="0.6554" stop-color="#808082"/><stop offset="0.6581" stop-color="#808082"/><stop offset="0.6608" stop-color="#808082"/><stop offset="0.6635" stop-color="#808082"/><stop offset="0.6662" stop-color="#808082"/><stop offset="0.6689" stop-color="#808082"/><stop offset="0.6716" stop-color="#808082"/><stop offset="0.6743" stop-color="#808082"/><stop offset="0.6770" stop-color="#808082"/><stop offset="0.6797" stop-color="#808082"/><stop offset="0.6824" stop-color="#808082"/><stop offset="0.6851" stop-color="#808082"/><stop offset="0.6878" stop-color="#808082"/><stop offset="0.6905" stop-color="#808082"/><stop offset="0.6932" stop-color="#808082"/><stop offset="0.6959" stop-color="#808082"/><stop offset="0.6986" stop-color="#808082"/><stop offset="0.7014" stop-color="#808082"/><stop offset="0.7041" stop-color="#808082"/><stop offset="0.7068" stop-color="#808082"/><stop offset="0.7095" stop-color="#808082"/><stop offset="0.7122" stop-color="#808082"/><stop offset="0.7149" stop-color="#808082"/><stop offset="0.7176" stop-color="#808082"/><stop offset="0.7203" stop-color="#808082"/><stop offset="0.7230" stop-color="#808082"/><stop offset="0.7257" stop-color="#808082"/><stop offset="0.7284" stop-color="#808082"/><stop offset="0.7311" stop-color="#808082"/><stop offset="0.7338" stop-color="#808082"/><stop offset="0.7365" stop-color="#808082"/><stop offset="0.7392" stop-color="#808082"/><stop offset="0.7419" stop-color="#808082"/><stop offset="0.7446" stop-color="#808082"/><stop offset="0.7473" stop-color="#808082"/><stop offset="0.7500" stop-color="#808082"/><stop offset="0.7527" stop-color="#808082"/><stop offset="0.7554" stop-color="#808082"/><stop offset="0.7581" stop-color="#808082"/><stop offset="0.7608" stop-color="#808082"/><stop offset="0.7635" stop-color="#808082"/><stop offset="0.7662" stop-color="#808082"/><stop offset="0.7689" stop-color="#808082"/><stop offset="0.7716" stop-color="#808082"/><stop offset="0.7743" stop-color="#808082"/><stop offset="0.7770" stop-color="#808082"/><stop offset="0.7797" stop-color="#808082"/><stop offset="0.7824" stop-color="#808082"/><stop offset="0.7851" stop-color="#808082"/><stop offset="0.7878" stop-color="#808082"/><stop offset="0.7905" stop-color="#808082"/><stop offset="0.7932" stop-color="#808082"/><stop offset="0.7959" stop-color="#808082"/><stop offset="0.7986" stop-color="#808082"/><stop offset="0.8014" stop-color="#808082"/><stop offset="0.8041" stop-color="#808082"/><stop offset="0.8068" stop-color="#808082"/><stop offset="0.8095" stop-color="#808082"/><stop offset="0.8122" stop-color="#808082"/><stop offset="0.8149" stop-color="#808082"/><stop offset="0.8176" stop-color="#808082"/><stop offset="0.8203" stop-color="#808082"/><stop offset="0.8230" stop-color="#808082"/><stop offset="0.8257" stop-color="#808082"/><stop offset="0.8284" stop-color="#808082"/><stop offset="0.8311" stop-color="#808082"/><stop offset="0.8338" stop-color="#808082"/><stop offset="0.8365" stop-color="#808082"/><stop offset="0.8392" stop-color="#808082"/><stop offset="0.8419" stop-color="#808082"/><stop offset="0.8446" stop-color="#808082"/><stop offset="0.8473" stop-color="#808082"/><stop offset="0.8500" stop-color="#808082"/><stop offset="0.8527" stop-color="#808082"/><stop offset="0.8554" stop-color="#808082"/><stop offset="0.8581" stop-color="#808082"/><stop offset="0.8608" stop-color="#808082"/><stop offset="0.8635" stop-color="#808082"/><stop offset="0.8662" stop-color="#808082"/><stop offset="0.8689" stop-color="#808082"/><stop offset="0.8716" stop-color="#808082"/><stop offset="0.8743" stop-color="#808082"/><stop offset="0.8770" stop-color="#808082"/><stop offset="0.8797" stop-color="#808082"/><stop offset="0.8824" stop-color="#808082"/><stop offset="0.8851" stop-color="#808082"/><stop offset="0.8878" stop-color="#808082"/><stop offset="0.8905" stop-color="#808082"/><stop offset="0.8932" stop-color="#808082"/><stop offset="0.8959" stop-color="#808082"/><stop offset="0.8986" stop-color="#808082"/><stop offset="0.9014" stop-color="#808082"/><stop offset="0.9041" stop-color="#808082"/><stop offset="0.9068" stop-color="#808082"/><stop offset="0.9095" stop-color="#808082"/><stop offset="0.9122" stop-color="#808082"/><stop offset="0.9149" stop-color="#808082"/><stop offset="0.9176" stop-color="#808082"/><stop offset="0.9203" stop-color="#808082"/><stop offset="0.9230" stop-color="#808082"/><stop offset="0.9257" stop-color="#808082"/><stop offset="0.9284" stop-color="#808082"/><stop offset="0.9311" stop-color="#808082"/><stop offset="0.9338" stop-color="#808082"/><stop offset="0.9365" stop-color="#808082"/><stop offset="0.9392" stop-color="#808082"/><stop offset="0.9419" stop-color="#808082"/><stop offset="0.9446" stop-color="#808082"/><stop offset="0.9473" stop-color="#808082"/><stop offset="0.9500" stop-color="#808082"/><stop offset="0.9527" stop-color="#808082"/><stop offset="0.9554" stop-color="#808082"/><stop offset="0.9581" stop-color="#808082"/><stop offset="0.9608" stop-color="#808082"/><stop offset="0.9635" stop-color="#808082"/><stop offset="0.9662" stop-color="#808082"/><stop offset="0.9689" stop-color="#808082"/><stop offset="0.9716" stop-color="#808082"/><stop offset="0.9743" stop-color="#808082"/><stop offset="0.9770" stop-color="#808082"/><stop offset="0.9797" stop-color="#808082"/><stop offset="0.9824" stop-color="#808082"/><stop offset="0.9851" stop-color="#808082"/><stop offset="0.9878" stop-color="#808082"/><stop offset="0.9905" stop-color="#808082"/><stop offset="0.9932" stop-color="#808082"/><stop offset="0.9959" stop-color="#808082"/><stop offset="0.9986" stop-color="#808082"/></linearGradient><linearGradient id="cbR" x1="0" x2="0" y1="0" y2="1"><stop offset="0" stop-color="#fcf0f0"/><stop offset="0.2" stop-color="#f4a8a8"/><stop offset="0.38" stop-color="#ea5452"/><stop offset="0.5" stop-color="#e8302c"/><stop offset="0.62" stop-color="#ea5452"/><stop offset="0.8" stop-color="#f4a4a4"/><stop offset="1" stop-color="#fdf2f2"/></linearGradient><linearGradient id="cbG" x1="0" x2="0" y1="0" y2="1"><stop offset="0" stop-color="#f8f8f8"/><stop offset="0.5" stop-color="#7e7e80"/><stop offset="1" stop-color="#231f20"/></linearGradient></defs>
<text x="4.03" y="19.80" font-size="22.90" font-family='"Liberation Sans", sans-serif' font-weight="bold" font-style="normal" fill="#000" textLength="16.38" lengthAdjust="spacingAndGlyphs">A</text>
<text x="4.77" y="459.40" font-size="22.46" font-family='"Liberation Sans", sans-serif' font-weight="bold" font-style="normal" fill="#000" textLength="15.86" lengthAdjust="spacingAndGlyphs">B</text>
<rect x="57.9" y="98" width="6.1" height="40" fill="#a4a6ab"/>
<circle cx="61.00" cy="63.30" r="34.00" fill="#eff0f3" stroke="#f3c5a9" stroke-width="6.0"/>
<circle cx="61.00" cy="171.20" r="34.00" fill="#eff0f3" stroke="#84421f" stroke-width="6.0"/>
<rect x="54.10" y="47.20" width="10.00" height="1.1" fill="#222"/><text x="51.35" y="58.54" font-size="16.25" font-family='"Liberation Serif", serif' font-weight="normal" font-style="italic" fill="#222" stroke="#222" stroke-width="0.30" textLength="13.11" lengthAdjust="spacingAndGlyphs">ω</text><text x="63.55" y="61.80" font-size="12.58" font-family='"Liberation Serif", serif' font-weight="normal" font-style="normal" fill="#222" stroke="#222" stroke-width="0.30" textLength="7.32" lengthAdjust="spacingAndGlyphs">1</text>
<text x="41.37" y="79.74" font-size="19.20" font-family='"Liberation Serif", serif' font-weight="normal" font-style="normal" fill="#222" stroke="#222" stroke-width="0.30" textLength="12.74" lengthAdjust="spacingAndGlyphs">=</text>
<text x="59.65" y="78.16" font-size="16.15" font-family='"Liberation Serif", serif' font-weight="normal" font-style="normal" fill="#222" stroke="#222" stroke-width="0.30" textLength="21.95" lengthAdjust="spacingAndGlyphs">4.3</text>
<rect x="54.10" y="158.00" width="10.00" height="1.1" fill="#222"/><text x="51.65" y="168.65" font-size="15.21" font-family='"Liberation Serif", serif' font-weight="normal" font-style="italic" fill="#222" stroke="#222" stroke-width="0.30" textLength="13.11" lengthAdjust="spacingAndGlyphs">ω</text><text x="64.14" y="172.70" font-size="12.27" font-family='"Liberation Serif", serif' font-weight="normal" font-style="normal" fill="#222" stroke="#222" stroke-width="0.30" textLength="7.38" lengthAdjust="spacingAndGlyphs">2</text>
<text x="41.88" y="191.35" font-size="21.20" font-family='"Liberation Serif", serif' font-weight="normal" font-style="normal" fill="#222" stroke="#222" stroke-width="0.30" textLength="12.61" lengthAdjust="spacingAndGlyphs">=</text>
<text x="59.75" y="189.25" font-size="16.89" font-family='"Liberation Serif", serif' font-weight="normal" font-style="normal" fill="#222" stroke="#222" stroke-width="0.30" textLength="22.19" lengthAdjust="spacingAndGlyphs">4.7</text>
<text x="281.87" y="23.33" font-size="19.36" font-family='"Liberation Sans", sans-serif' font-weight="normal" font-style="italic" fill="#111" textLength="69.67" lengthAdjust="spacingAndGlyphs">Coupled</text>
<rect x="285.6" y="28.4" width="274.8" height="2.1" fill="#111"/>
<rect x="192" y="38" width="370" height="71" fill="url(#gTop)"/>
<rect x="192" y="109" width="370" height="71" fill="url(#gBot)"/>
<rect x="191.9" y="38.1" width="370.2" height="142" fill="none" stroke="#7a6060" stroke-width="0.7"/>
<rect x="192" y="210" width="370" height="67" fill="url(#hTop)"/>
<rect x="192" y="277" width="370" height="4" fill="url(#hStrip)"/>
<rect x="192" y="281" width="370" height="68" fill="url(#hBot)"/>
<rect x="192" y="349" width="370" height="3.2" fill="url(#hStripB)"/>
<rect x="192" y="210" width="370" height="1.2" fill="#8a8a8c" opacity="0.8"/>
<rect x="191.9" y="209.6" width="370.2" height="142.6" fill="none" stroke="#8a8a8a" stroke-width="0.8"/>
<text x="176.81" y="47.41" font-size="19.44" font-family='"Liberation Sans", sans-serif' font-weight="normal" font-style="normal" fill="#1a1a1a" textLength="11.01" lengthAdjust="spacingAndGlyphs">0</text>
<text x="166.02" y="116.71" font-size="19.30" font-family='"Liberation Sans", sans-serif' font-weight="normal" font-style="normal" fill="#1a1a1a" textLength="21.82" lengthAdjust="spacingAndGlyphs">50</text>
<text x="155.78" y="187.41" font-size="19.44" font-family='"Liberation Sans", sans-serif' font-weight="normal" font-style="normal" fill="#1a1a1a" textLength="31.55" lengthAdjust="spacingAndGlyphs">100</text>
<text x="176.39" y="219.00" font-size="19.72" font-family='"Liberation Sans", sans-serif' font-weight="normal" font-style="normal" fill="#1a1a1a" textLength="11.24" lengthAdjust="spacingAndGlyphs">0</text>
<text x="165.81" y="289.51" font-size="19.30" font-family='"Liberation Sans", sans-serif' font-weight="normal" font-style="normal" fill="#1a1a1a" textLength="22.03" lengthAdjust="spacingAndGlyphs">50</text>
<text x="155.78" y="360.01" font-size="19.44" font-family='"Liberation Sans", sans-serif' font-weight="normal" font-style="normal" fill="#1a1a1a" textLength="31.55" lengthAdjust="spacingAndGlyphs">100</text>
<text transform="translate(141.31,131.63) rotate(-90)" x="0" y="0" font-size="18.50" font-family='"Liberation Sans", sans-serif' fill="#1a1a1a" textLength="45.60" lengthAdjust="spacingAndGlyphs">Node</text>
<text transform="translate(141.31,304.63) rotate(-90)" x="0" y="0" font-size="18.50" font-family='"Liberation Sans", sans-serif' fill="#1a1a1a" textLength="45.60" lengthAdjust="spacingAndGlyphs">Node</text>
<rect x="571.5" y="38.5" width="19" height="141.5" fill="url(#cbR)" stroke="#8a8a8a" stroke-width="0.8"/>
<rect x="571.5" y="209.8" width="18.5" height="142.4" fill="url(#cbG)" stroke="#8a8a8a" stroke-width="0.8"/>
<text x="594.99" y="45.50" font-size="18.86" font-family='"Liberation Sans", sans-serif' font-weight="normal" font-style="normal" fill="#1a1a1a" textLength="11.25" lengthAdjust="spacingAndGlyphs">2</text>
<text x="606.41" y="46.20" font-size="20.21" font-family='"Liberation Serif", serif' font-weight="normal" font-style="normal" fill="#1a1a1a" stroke="#1a1a1a" stroke-width="0.30" textLength="9.78" lengthAdjust="spacingAndGlyphs">π</text>
<text x="600.89" y="116.80" font-size="19.57" font-family='"Liberation Serif", serif' font-weight="normal" font-style="normal" fill="#1a1a1a" stroke="#1a1a1a" stroke-width="0.30" textLength="10.42" lengthAdjust="spacingAndGlyphs">π</text>
<text x="600.17" y="187.01" font-size="19.15" font-family='"Liberation Sans", sans-serif' font-weight="normal" font-style="normal" fill="#1a1a1a" textLength="11.59" lengthAdjust="spacingAndGlyphs">0</text>
<text x="595.12" y="218.21" font-size="19.15" font-family='"Liberation Sans", sans-serif' font-weight="normal" font-style="normal" fill="#1a1a1a" textLength="26.65" lengthAdjust="spacingAndGlyphs">4.8</text>
<text x="595.12" y="288.81" font-size="19.43" font-family='"Liberation Sans", sans-serif' font-weight="normal" font-style="normal" fill="#1a1a1a" textLength="26.65" lengthAdjust="spacingAndGlyphs">4.5</text>
<text x="595.11" y="360.00" font-size="19.43" font-family='"Liberation Sans", sans-serif' font-weight="normal" font-style="normal" fill="#1a1a1a" textLength="26.86" lengthAdjust="spacingAndGlyphs">4.2</text>
<text x="176.23" y="380.01" font-size="19.44" font-family='"Liberation Sans", sans-serif' font-weight="normal" font-style="normal" fill="#1a1a1a" textLength="32.21" lengthAdjust="spacingAndGlyphs">225</text>
<text x="268.43" y="380.01" font-size="19.44" font-family='"Liberation Sans", sans-serif' font-weight="normal" font-style="normal" fill="#1a1a1a" textLength="32.31" lengthAdjust="spacingAndGlyphs">250</text>
<text x="361.01" y="380.01" font-size="19.44" font-family='"Liberation Sans", sans-serif' font-weight="normal" font-style="normal" fill="#1a1a1a" textLength="32.95" lengthAdjust="spacingAndGlyphs">275</text>
<text x="453.82" y="380.01" font-size="19.44" font-family='"Liberation Sans", sans-serif' font-weight="normal" font-style="normal" fill="#1a1a1a" textLength="32.74" lengthAdjust="spacingAndGlyphs">300</text>
<text x="546.01" y="380.01" font-size="19.44" font-family='"Liberation Sans", sans-serif' font-weight="normal" font-style="normal" fill="#1a1a1a" textLength="33.05" lengthAdjust="spacingAndGlyphs">325</text>
<text x="344.21" y="411.89" font-size="20.53" font-family='"Liberation Sans", sans-serif' font-weight="normal" font-style="normal" fill="#1a1a1a" textLength="70.74" lengthAdjust="spacingAndGlyphs">Time (s)</text>
<rect x="86.63" y="568.54" width="5.60" height="5.90" fill="#a3a4a6" transform="rotate(-60.22 89.43 571.49)"/><rect x="92.40" y="558.45" width="5.60" height="5.90" fill="#a3a4a6" transform="rotate(-60.22 95.20 561.40)"/><rect x="98.17" y="548.36" width="5.60" height="5.90" fill="#a3a4a6" transform="rotate(-60.22 100.97 551.31)"/><rect x="103.94" y="538.28" width="5.60" height="5.90" fill="#a3a4a6" transform="rotate(-60.22 106.74 541.23)"/><rect x="109.71" y="528.19" width="5.60" height="5.90" fill="#a3a4a6" transform="rotate(-60.22 112.51 531.14)"/>
<rect x="148.95" y="529.61" width="5.60" height="5.90" fill="#a3a4a6" transform="rotate(59.80 151.75 532.56)"/><rect x="154.80" y="539.65" width="5.60" height="5.90" fill="#a3a4a6" transform="rotate(59.80 157.60 542.60)"/><rect x="160.65" y="549.69" width="5.60" height="5.90" fill="#a3a4a6" transform="rotate(59.80 163.45 552.64)"/><rect x="166.49" y="559.74" width="5.60" height="5.90" fill="#a3a4a6" transform="rotate(59.80 169.29 562.69)"/><rect x="172.34" y="569.78" width="5.60" height="5.90" fill="#a3a4a6" transform="rotate(59.80 175.14 572.73)"/>
<rect x="97.55" y="596.05" width="5.60" height="5.90" fill="#a3a4a6" transform="rotate(0.00 100.35 599.00)"/><rect x="109.10" y="596.05" width="5.60" height="5.90" fill="#a3a4a6" transform="rotate(0.00 111.90 599.00)"/><rect x="120.65" y="596.05" width="5.60" height="5.90" fill="#a3a4a6" transform="rotate(0.00 123.45 599.00)"/><rect x="132.20" y="596.05" width="5.60" height="5.90" fill="#a3a4a6" transform="rotate(0.00 135.00 599.00)"/><rect x="143.75" y="596.05" width="5.60" height="5.90" fill="#a3a4a6" transform="rotate(0.00 146.55 599.00)"/><rect x="155.30" y="596.05" width="5.60" height="5.90" fill="#a3a4a6" transform="rotate(0.00 158.10 599.00)"/>
<circle cx="132.50" cy="502.00" r="33.50" fill="#eff0f3" stroke="#e67c3a" stroke-width="6.0"/>
<circle cx="75.00" cy="598.50" r="33.50" fill="#eff0f3" stroke="#f3c5a9" stroke-width="6.0"/>
<circle cx="190.50" cy="598.00" r="33.50" fill="#eff0f3" stroke="#84421f" stroke-width="6.0"/>
<rect x="125.40" y="487.40" width="8.70" height="1.1" fill="#222"/><text x="123.14" y="497.55" font-size="15.00" font-family='"Liberation Serif", serif' font-weight="normal" font-style="italic" fill="#222" stroke="#222" stroke-width="0.30" textLength="11.21" lengthAdjust="spacingAndGlyphs">ω</text><text x="134.22" y="500.60" font-size="10.61" font-family='"Liberation Serif", serif' font-weight="normal" font-style="normal" fill="#222" stroke="#222" stroke-width="0.30" textLength="6.50" lengthAdjust="spacingAndGlyphs">2</text>
<text x="113.92" y="517.06" font-size="20.80" font-family='"Liberation Serif", serif' font-weight="normal" font-style="normal" fill="#222" stroke="#222" stroke-width="0.30" textLength="12.13" lengthAdjust="spacingAndGlyphs">=</text>
<text x="130.29" y="514.67" font-size="15.41" font-family='"Liberation Serif", serif' font-weight="normal" font-style="normal" fill="#222" stroke="#222" stroke-width="0.30" textLength="19.12" lengthAdjust="spacingAndGlyphs">4.5</text>
<rect x="69.90" y="577.30" width="8.10" height="1.1" fill="#222"/><text x="67.44" y="587.55" font-size="15.21" font-family='"Liberation Serif", serif' font-weight="normal" font-style="italic" fill="#222" stroke="#222" stroke-width="0.30" textLength="11.21" lengthAdjust="spacingAndGlyphs">ω</text><text x="78.27" y="590.60" font-size="10.76" font-family='"Liberation Serif", serif' font-weight="normal" font-style="normal" fill="#222" stroke="#222" stroke-width="0.30" textLength="6.06" lengthAdjust="spacingAndGlyphs">1</text>
<text x="60.59" y="606.28" font-size="16.00" font-family='"Liberation Serif", serif' font-weight="normal" font-style="normal" fill="#222" stroke="#222" stroke-width="0.30" textLength="11.40" lengthAdjust="spacingAndGlyphs">=</text>
<text x="71.69" y="604.57" font-size="15.41" font-family='"Liberation Serif", serif' font-weight="normal" font-style="normal" fill="#222" stroke="#222" stroke-width="0.30" textLength="19.64" lengthAdjust="spacingAndGlyphs">4.5</text>
<rect x="61.6" y="616.7" width="8.8" height="1.1" fill="#222"/>
<text x="71.20" y="622.00" font-size="15.15" font-family='"Liberation Serif", serif' font-weight="normal" font-style="normal" fill="#222" stroke="#222" stroke-width="0.30" textLength="9.67" lengthAdjust="spacingAndGlyphs">Δ</text>
<text x="80.25" y="621.85" font-size="15.21" font-family='"Liberation Serif", serif' font-weight="normal" font-style="italic" fill="#222" stroke="#222" stroke-width="0.30" textLength="11.10" lengthAdjust="spacingAndGlyphs">ω</text>
<rect x="186.80" y="578.30" width="8.00" height="1.1" fill="#222"/><text x="184.32" y="588.55" font-size="15.21" font-family='"Liberation Serif", serif' font-weight="normal" font-style="italic" fill="#222" stroke="#222" stroke-width="0.30" textLength="11.66" lengthAdjust="spacingAndGlyphs">ω</text><text x="195.24" y="591.69" font-size="10.90" font-family='"Liberation Serif", serif' font-weight="normal" font-style="normal" fill="#222" stroke="#222" stroke-width="0.30" textLength="6.27" lengthAdjust="spacingAndGlyphs">3</text>
<text x="177.70" y="608.15" font-size="18.80" font-family='"Liberation Serif", serif' font-weight="normal" font-style="normal" fill="#222" stroke="#222" stroke-width="0.30" textLength="11.28" lengthAdjust="spacingAndGlyphs">=</text>
<text x="188.68" y="605.56" font-size="16.15" font-family='"Liberation Serif", serif' font-weight="normal" font-style="normal" fill="#222" stroke="#222" stroke-width="0.30" textLength="20.27" lengthAdjust="spacingAndGlyphs">4.5</text>
<text x="177.53" y="624.08" font-size="17.66" font-family='"Liberation Serif", serif' font-weight="normal" font-style="normal" fill="#222" stroke="#222" stroke-width="0.30" textLength="10.92" lengthAdjust="spacingAndGlyphs">+</text>
<text x="188.37" y="622.40" font-size="14.85" font-family='"Liberation Serif", serif' font-weight="normal" font-style="normal" fill="#222" stroke="#222" stroke-width="0.30" textLength="10.13" lengthAdjust="spacingAndGlyphs">Δ</text>
<text x="197.32" y="622.26" font-size="13.96" font-family='"Liberation Serif", serif' font-weight="normal" font-style="italic" fill="#222" stroke="#222" stroke-width="0.30" textLength="11.66" lengthAdjust="spacingAndGlyphs">ω</text>
<rect x="8.3" y="651" width="244.5" height="103" fill="#fff" stroke="#555" stroke-width="1.4"/>
<text x="28.16" y="673.60" font-size="16.55" font-family='"Liberation Sans", sans-serif' font-weight="normal" font-style="normal" fill="#d8262b" textLength="39.03" lengthAdjust="spacingAndGlyphs">NW i</text>
<text x="108.56" y="673.60" font-size="16.55" font-family='"Liberation Sans", sans-serif' font-weight="normal" font-style="normal" fill="#33479b" textLength="43.07" lengthAdjust="spacingAndGlyphs">NW ii</text>
<text x="189.57" y="673.60" font-size="16.55" font-family='"Liberation Sans", sans-serif' font-weight="normal" font-style="normal" fill="#111" textLength="46.60" lengthAdjust="spacingAndGlyphs">NW iii</text>
<line x1="47.00" y1="698.50" x2="27.60" y2="731.00" stroke="#a4a6ab" stroke-width="5"/><line x1="47.00" y1="698.50" x2="66.40" y2="731.00" stroke="#a4a6ab" stroke-width="5"/><line x1="27.60" y1="731.00" x2="66.40" y2="731.00" stroke="#a4a6ab" stroke-width="5"/><circle cx="47.00" cy="698.50" r="11" fill="#eff0f3" stroke="#e67c3a" stroke-width="6"/><circle cx="27.60" cy="731.00" r="11" fill="#eff0f3" stroke="#f3c5a9" stroke-width="6"/><circle cx="66.40" cy="731.00" r="11" fill="#eff0f3" stroke="#84421f" stroke-width="6"/>
<line x1="129.30" y1="699.00" x2="110.00" y2="731.30" stroke="#a4a6ab" stroke-width="5"/><line x1="110.00" y1="731.30" x2="148.40" y2="731.30" stroke="#a4a6ab" stroke-width="5"/><circle cx="129.30" cy="699.00" r="11" fill="#eff0f3" stroke="#e67c3a" stroke-width="6"/><circle cx="110.00" cy="731.30" r="11" fill="#eff0f3" stroke="#f3c5a9" stroke-width="6"/><circle cx="148.40" cy="731.30" r="11" fill="#eff0f3" stroke="#84421f" stroke-width="6"/>
<line x1="211.00" y1="698.50" x2="191.60" y2="730.60" stroke="#a4a6ab" stroke-width="5"/><line x1="211.00" y1="698.50" x2="230.40" y2="730.60" stroke="#a4a6ab" stroke-width="5"/><circle cx="211.00" cy="698.50" r="11" fill="#eff0f3" stroke="#e67c3a" stroke-width="6"/><circle cx="191.60" cy="730.60" r="11" fill="#eff0f3" stroke="#f3c5a9" stroke-width="6"/><circle cx="230.40" cy="730.60" r="11" fill="#eff0f3" stroke="#84421f" stroke-width="6"/>
<rect x="355.60" y="465.00" width="255.00" height="231.00" fill="none" stroke="#555" stroke-width="1.4"/>
<line x1="355.60" y1="668.05" x2="361.10" y2="668.05" stroke="#555" stroke-width="1.3"/>
<line x1="355.60" y1="639.80" x2="361.10" y2="639.80" stroke="#555" stroke-width="1.3"/>
<line x1="355.60" y1="611.55" x2="361.10" y2="611.55" stroke="#555" stroke-width="1.3"/>
<line x1="355.60" y1="583.30" x2="365.10" y2="583.30" stroke="#555" stroke-width="1.3"/>
<line x1="355.60" y1="555.05" x2="361.10" y2="555.05" stroke="#555" stroke-width="1.3"/>
<line x1="355.60" y1="526.80" x2="361.10" y2="526.80" stroke="#555" stroke-width="1.3"/>
<line x1="355.60" y1="498.55" x2="361.10" y2="498.55" stroke="#555" stroke-width="1.3"/>
<line x1="383.33" y1="696.00" x2="383.33" y2="691.00" stroke="#555" stroke-width="1.3"/>
<line x1="411.07" y1="696.00" x2="411.07" y2="691.00" stroke="#555" stroke-width="1.3"/>
<line x1="438.80" y1="696.00" x2="438.80" y2="686.00" stroke="#555" stroke-width="1.3"/>
<line x1="466.53" y1="696.00" x2="466.53" y2="691.00" stroke="#555" stroke-width="1.3"/>
<line x1="494.27" y1="696.00" x2="494.27" y2="691.00" stroke="#555" stroke-width="1.3"/>
<line x1="522.00" y1="696.00" x2="522.00" y2="686.00" stroke="#555" stroke-width="1.3"/>
<line x1="549.73" y1="696.00" x2="549.73" y2="691.00" stroke="#555" stroke-width="1.3"/>
<line x1="577.47" y1="696.00" x2="577.47" y2="691.00" stroke="#555" stroke-width="1.3"/>
<text x="325.02" y="476.81" font-size="19.44" font-family='"Liberation Sans", sans-serif' font-weight="normal" font-style="normal" fill="#1a1a1a" textLength="25.63" lengthAdjust="spacingAndGlyphs">1.0</text>
<text x="325.68" y="589.81" font-size="19.44" font-family='"Liberation Sans", sans-serif' font-weight="normal" font-style="normal" fill="#1a1a1a" textLength="25.04" lengthAdjust="spacingAndGlyphs">0.8</text>
<text x="325.68" y="702.21" font-size="19.44" font-family='"Liberation Sans", sans-serif' font-weight="normal" font-style="normal" fill="#1a1a1a" textLength="25.04" lengthAdjust="spacingAndGlyphs">0.6</text>
<text x="342.52" y="719.41" font-size="19.44" font-family='"Liberation Sans", sans-serif' font-weight="normal" font-style="normal" fill="#1a1a1a" textLength="27.06" lengthAdjust="spacingAndGlyphs">0.0</text>
<text x="426.39" y="719.41" font-size="19.44" font-family='"Liberation Sans", sans-serif' font-weight="normal" font-style="normal" fill="#1a1a1a" textLength="28.01" lengthAdjust="spacingAndGlyphs">0.4</text>
<text x="509.58" y="719.41" font-size="19.44" font-family='"Liberation Sans", sans-serif' font-weight="normal" font-style="normal" fill="#1a1a1a" textLength="28.44" lengthAdjust="spacingAndGlyphs">0.8</text>
<text x="591.01" y="719.60" font-size="19.71" font-family='"Liberation Sans", sans-serif' font-weight="normal" font-style="normal" fill="#1a1a1a" textLength="29.45" lengthAdjust="spacingAndGlyphs">1.2</text>
<text x="463.24" y="745.41" font-size="19.15" font-family='"Liberation Sans", sans-serif' font-weight="normal" font-style="normal" fill="#1a1a1a" textLength="38.63" lengthAdjust="spacingAndGlyphs">2Δ<tspan font-style="italic">ω</tspan></text>
<text transform="translate(300.99,657.79) rotate(-90)" x="0" y="0" font-size="18.61" font-family='"Liberation Sans", sans-serif' fill="#1a1a1a" textLength="157.43" lengthAdjust="spacingAndGlyphs">Order parameter <tspan font-style="italic">r</tspan></text>
<clipPath id="clipAx"><rect x="355.60" y="465.00" width="255.00" height="231.00"/></clipPath>
<g clip-path="url(#clipAx)">
<polyline fill="none" stroke="#1e1e1e" stroke-width="1.15" stroke-linejoin="round" points="355.60,470.30 397.20,483.30 438.80,522.28 480.40,587.82 522.00,677.09 527.82,696.30"/>
<polyline fill="none" stroke="#3a4fa8" stroke-width="1.25" stroke-linejoin="round" points="355.60,470.30 397.20,478.21 438.80,496.29 480.40,530.19 522.00,574.26 563.60,631.04 599.50,696.30"/>
<polyline fill="none" stroke="#d92a35" stroke-width="1.30" stroke-linejoin="round" points="355.60,470.30 397.20,475.38 438.80,487.82 480.40,509.85 522.00,540.08 563.60,581.61 605.20,625.11"/>
<circle cx="355.60" cy="470.30" r="3.10" stroke="#333" stroke-width="0.90" fill="none"/><line x1="352.50" y1="470.30" x2="358.70" y2="470.30" stroke="#333" stroke-width="1.2"/>
<circle cx="397.20" cy="483.86" r="3.10" stroke="#333" stroke-width="0.90" fill="none"/><line x1="394.10" y1="483.86" x2="400.30" y2="483.86" stroke="#333" stroke-width="1.2"/>
<circle cx="438.80" cy="522.85" r="3.10" stroke="#333" stroke-width="0.90" fill="none"/><line x1="435.70" y1="522.85" x2="441.90" y2="522.85" stroke="#333" stroke-width="1.2"/>
<circle cx="480.40" cy="588.38" r="3.10" stroke="#333" stroke-width="0.90" fill="none"/><line x1="477.30" y1="588.38" x2="483.50" y2="588.38" stroke="#333" stroke-width="1.2"/>
<circle cx="522.00" cy="683.87" r="3.10" stroke="#333" stroke-width="0.90" fill="none"/><line x1="518.90" y1="683.87" x2="525.10" y2="683.87" stroke="#333" stroke-width="1.2"/>
<rect x="352.50" y="467.20" width="6.20" height="6.20" stroke="#7f8cc4" stroke-width="0.90" fill="none"/><line x1="352.50" y1="470.30" x2="358.70" y2="470.30" stroke="#4a5aa8" stroke-width="1.2"/>
<rect x="394.10" y="475.34" width="6.20" height="6.20" stroke="#7f8cc4" stroke-width="0.90" fill="none"/><line x1="394.10" y1="478.44" x2="400.30" y2="478.44" stroke="#4a5aa8" stroke-width="1.2"/>
<rect x="435.70" y="493.75" width="6.20" height="6.20" stroke="#7f8cc4" stroke-width="0.90" fill="none"/><line x1="435.70" y1="496.86" x2="441.90" y2="496.86" stroke="#4a5aa8" stroke-width="1.2"/>
<rect x="477.30" y="527.65" width="6.20" height="6.20" stroke="#7f8cc4" stroke-width="0.90" fill="none"/><line x1="477.30" y1="530.75" x2="483.50" y2="530.75" stroke="#4a5aa8" stroke-width="1.2"/>
<rect x="518.90" y="578.22" width="6.20" height="6.20" stroke="#7f8cc4" stroke-width="0.90" fill="none"/><line x1="518.90" y1="581.32" x2="525.10" y2="581.32" stroke="#4a5aa8" stroke-width="1.2"/>
<rect x="560.50" y="650.26" width="6.20" height="6.20" stroke="#7f8cc4" stroke-width="0.90" fill="none"/><line x1="560.50" y1="653.36" x2="566.70" y2="653.36" stroke="#4a5aa8" stroke-width="1.2"/>
<path d="M352.50 467.20L358.70 473.40M352.50 473.40L358.70 467.20" stroke="#e03a40" stroke-width="0.90" fill="none"/><line x1="352.50" y1="470.30" x2="358.70" y2="470.30" stroke="#e03a40" stroke-width="1.2"/>
<path d="M394.10 472.28L400.30 478.49M394.10 478.49L400.30 472.28" stroke="#e03a40" stroke-width="0.90" fill="none"/><line x1="394.10" y1="475.38" x2="400.30" y2="475.38" stroke="#e03a40" stroke-width="1.2"/>
<path d="M435.70 484.72L441.90 490.92M435.70 490.92L441.90 484.72" stroke="#e03a40" stroke-width="0.90" fill="none"/><line x1="435.70" y1="487.82" x2="441.90" y2="487.82" stroke="#e03a40" stroke-width="1.2"/>
<path d="M477.30 506.75L483.50 512.95M477.30 512.95L483.50 506.75" stroke="#e03a40" stroke-width="0.90" fill="none"/><line x1="477.30" y1="509.85" x2="483.50" y2="509.85" stroke="#e03a40" stroke-width="1.2"/>
<path d="M518.90 537.54L525.10 543.74M518.90 543.74L525.10 537.54" stroke="#e03a40" stroke-width="0.90" fill="none"/><line x1="518.90" y1="540.64" x2="525.10" y2="540.64" stroke="#e03a40" stroke-width="1.2"/>
<path d="M560.50 579.35L566.70 585.55M560.50 585.55L566.70 579.35" stroke="#e03a40" stroke-width="0.90" fill="none"/><line x1="560.50" y1="582.45" x2="566.70" y2="582.45" stroke="#e03a40" stroke-width="1.2"/>
<path d="M602.10 631.05L608.30 637.25M602.10 637.25L608.30 631.05" stroke="#e03a40" stroke-width="0.90" fill="none"/><line x1="602.10" y1="634.15" x2="608.30" y2="634.15" stroke="#e03a40" stroke-width="1.2"/>
</g>
<rect x="371.3" y="597.4" width="98.2" height="82.8" fill="#fff" stroke="#333" stroke-width="1.3"/>
<text x="402.73" y="610.00" font-size="10.76" font-family='"Liberation Sans", sans-serif' font-style="normal" fill="#1a1a1a" textLength="26.16" lengthAdjust="spacingAndGlyphs">NW i</text>
<text x="402.75" y="622.90" font-size="10.76" font-family='"Liberation Sans", sans-serif' font-style="normal" fill="#1a1a1a" textLength="60.33" lengthAdjust="spacingAndGlyphs">NW i (SAF)</text>
<text x="402.72" y="636.20" font-size="10.76" font-family='"Liberation Sans", sans-serif' font-style="normal" fill="#1a1a1a" textLength="29.11" lengthAdjust="spacingAndGlyphs">NW ii</text>
<text x="402.76" y="649.20" font-size="10.76" font-family='"Liberation Sans", sans-serif' font-style="normal" fill="#1a1a1a" textLength="62.17" lengthAdjust="spacingAndGlyphs">NW ii (SAF)</text>
<text x="402.72" y="662.60" font-size="10.76" font-family='"Liberation Sans", sans-serif' font-style="normal" fill="#1a1a1a" textLength="32.09" lengthAdjust="spacingAndGlyphs">NW iii</text>
<text x="402.75" y="675.50" font-size="10.76" font-family='"Liberation Sans", sans-serif' font-style="normal" fill="#1a1a1a" textLength="65.11" lengthAdjust="spacingAndGlyphs">NW iii (SAF)</text>
<path d="M383.80 603.40L390.60 610.20M383.80 610.20L390.60 603.40" stroke="#e04545" stroke-width="1.00" fill="none"/>
<line x1="376" y1="619.4" x2="397.5" y2="619.4" stroke="#e06060" stroke-width="1.6"/>
<rect x="382.90" y="629.10" width="7.40" height="7.40" stroke="#5a6ab8" stroke-width="1.00" fill="none"/>
<line x1="376" y1="645.7" x2="397.5" y2="645.7" stroke="#6070b8" stroke-width="1.6"/>
<circle cx="386.50" cy="658.80" r="3.50" stroke="#555" stroke-width="1.00" fill="none"/>
<line x1="376" y1="671.9" x2="397.5" y2="671.9" stroke="#333" stroke-width="1.4"/>
</svg>
</body></html>
